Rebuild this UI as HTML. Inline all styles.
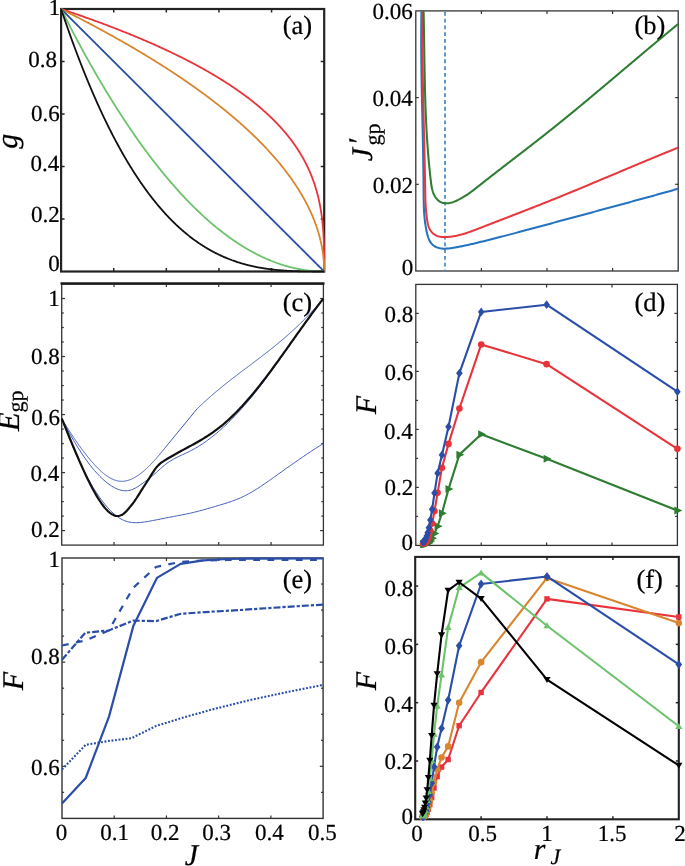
<!DOCTYPE html><html><head><meta charset="utf-8"><style>html,body{margin:0;padding:0;background:#fff;}svg{display:block;will-change:transform;}</style></head><body><svg width="685" height="866" viewBox="0 0 685 866" font-family='"Liberation Serif", serif' text-rendering="geometricPrecision"><style>text{stroke:#000;stroke-width:0.22px;fill:#000}</style>
<rect width="685" height="866" fill="#fff"/>
<rect x="61.1" y="9" width="263.1" height="262.5" fill="none" stroke="#222" stroke-width="2.2"/>
<line x1="61.1" y1="219" x2="64.6" y2="219" stroke="#222" stroke-width="1.5"/>
<line x1="324.2" y1="219" x2="320.7" y2="219" stroke="#222" stroke-width="1.5"/>
<line x1="61.1" y1="166.5" x2="64.6" y2="166.5" stroke="#222" stroke-width="1.5"/>
<line x1="324.2" y1="166.5" x2="320.7" y2="166.5" stroke="#222" stroke-width="1.5"/>
<line x1="61.1" y1="114" x2="64.6" y2="114" stroke="#222" stroke-width="1.5"/>
<line x1="324.2" y1="114" x2="320.7" y2="114" stroke="#222" stroke-width="1.5"/>
<line x1="61.1" y1="61.5" x2="64.6" y2="61.5" stroke="#222" stroke-width="1.5"/>
<line x1="324.2" y1="61.5" x2="320.7" y2="61.5" stroke="#222" stroke-width="1.5"/>
<line x1="113.72" y1="271.5" x2="113.72" y2="268" stroke="#222" stroke-width="1.5"/>
<line x1="113.72" y1="9" x2="113.72" y2="12.5" stroke="#222" stroke-width="1.5"/>
<line x1="166.34" y1="271.5" x2="166.34" y2="268" stroke="#222" stroke-width="1.5"/>
<line x1="166.34" y1="9" x2="166.34" y2="12.5" stroke="#222" stroke-width="1.5"/>
<line x1="218.96" y1="271.5" x2="218.96" y2="268" stroke="#222" stroke-width="1.5"/>
<line x1="218.96" y1="9" x2="218.96" y2="12.5" stroke="#222" stroke-width="1.5"/>
<line x1="271.58" y1="271.5" x2="271.58" y2="268" stroke="#222" stroke-width="1.5"/>
<line x1="271.58" y1="9" x2="271.58" y2="12.5" stroke="#222" stroke-width="1.5"/>
<rect x="415.8" y="10.9" width="262.4" height="260.1" fill="none" stroke="#333" stroke-width="1.3"/>
<line x1="415.8" y1="184.3" x2="418.8" y2="184.3" stroke="#333" stroke-width="1.2"/>
<line x1="678.2" y1="184.3" x2="675.2" y2="184.3" stroke="#333" stroke-width="1.2"/>
<line x1="415.8" y1="97.6" x2="418.8" y2="97.6" stroke="#333" stroke-width="1.2"/>
<line x1="678.2" y1="97.6" x2="675.2" y2="97.6" stroke="#333" stroke-width="1.2"/>
<line x1="481.4" y1="271" x2="481.4" y2="268" stroke="#333" stroke-width="1.2"/>
<line x1="481.4" y1="10.9" x2="481.4" y2="13.9" stroke="#333" stroke-width="1.2"/>
<line x1="547" y1="271" x2="547" y2="268" stroke="#333" stroke-width="1.2"/>
<line x1="547" y1="10.9" x2="547" y2="13.9" stroke="#333" stroke-width="1.2"/>
<line x1="612.6" y1="271" x2="612.6" y2="268" stroke="#333" stroke-width="1.2"/>
<line x1="612.6" y1="10.9" x2="612.6" y2="13.9" stroke="#333" stroke-width="1.2"/>
<rect x="61.7" y="284" width="261.7" height="261.1" fill="none" stroke="#333" stroke-width="1.3"/>
<line x1="60.5" y1="283.5" x2="324.5" y2="283.5" stroke="#1a1c1e" stroke-width="2.3"/>
<line x1="61.7" y1="530.59" x2="65" y2="530.59" stroke="#333" stroke-width="1.2"/>
<line x1="323.4" y1="530.59" x2="320.1" y2="530.59" stroke="#333" stroke-width="1.2"/>
<line x1="61.7" y1="472.57" x2="65" y2="472.57" stroke="#333" stroke-width="1.2"/>
<line x1="323.4" y1="472.57" x2="320.1" y2="472.57" stroke="#333" stroke-width="1.2"/>
<line x1="61.7" y1="414.55" x2="65" y2="414.55" stroke="#333" stroke-width="1.2"/>
<line x1="323.4" y1="414.55" x2="320.1" y2="414.55" stroke="#333" stroke-width="1.2"/>
<line x1="61.7" y1="356.53" x2="65" y2="356.53" stroke="#333" stroke-width="1.2"/>
<line x1="323.4" y1="356.53" x2="320.1" y2="356.53" stroke="#333" stroke-width="1.2"/>
<line x1="61.7" y1="298.51" x2="65" y2="298.51" stroke="#333" stroke-width="1.2"/>
<line x1="323.4" y1="298.51" x2="320.1" y2="298.51" stroke="#333" stroke-width="1.2"/>
<line x1="61.7" y1="516.09" x2="63.8" y2="516.09" stroke="#333" stroke-width="1.2"/>
<line x1="323.4" y1="516.09" x2="321.3" y2="516.09" stroke="#333" stroke-width="1.2"/>
<line x1="61.7" y1="501.58" x2="63.8" y2="501.58" stroke="#333" stroke-width="1.2"/>
<line x1="323.4" y1="501.58" x2="321.3" y2="501.58" stroke="#333" stroke-width="1.2"/>
<line x1="61.7" y1="487.08" x2="63.8" y2="487.08" stroke="#333" stroke-width="1.2"/>
<line x1="323.4" y1="487.08" x2="321.3" y2="487.08" stroke="#333" stroke-width="1.2"/>
<line x1="61.7" y1="458.07" x2="63.8" y2="458.07" stroke="#333" stroke-width="1.2"/>
<line x1="323.4" y1="458.07" x2="321.3" y2="458.07" stroke="#333" stroke-width="1.2"/>
<line x1="61.7" y1="443.56" x2="63.8" y2="443.56" stroke="#333" stroke-width="1.2"/>
<line x1="323.4" y1="443.56" x2="321.3" y2="443.56" stroke="#333" stroke-width="1.2"/>
<line x1="61.7" y1="429.06" x2="63.8" y2="429.06" stroke="#333" stroke-width="1.2"/>
<line x1="323.4" y1="429.06" x2="321.3" y2="429.06" stroke="#333" stroke-width="1.2"/>
<line x1="61.7" y1="400.04" x2="63.8" y2="400.04" stroke="#333" stroke-width="1.2"/>
<line x1="323.4" y1="400.04" x2="321.3" y2="400.04" stroke="#333" stroke-width="1.2"/>
<line x1="61.7" y1="385.54" x2="63.8" y2="385.54" stroke="#333" stroke-width="1.2"/>
<line x1="323.4" y1="385.54" x2="321.3" y2="385.54" stroke="#333" stroke-width="1.2"/>
<line x1="61.7" y1="371.03" x2="63.8" y2="371.03" stroke="#333" stroke-width="1.2"/>
<line x1="323.4" y1="371.03" x2="321.3" y2="371.03" stroke="#333" stroke-width="1.2"/>
<line x1="61.7" y1="342.02" x2="63.8" y2="342.02" stroke="#333" stroke-width="1.2"/>
<line x1="323.4" y1="342.02" x2="321.3" y2="342.02" stroke="#333" stroke-width="1.2"/>
<line x1="61.7" y1="327.52" x2="63.8" y2="327.52" stroke="#333" stroke-width="1.2"/>
<line x1="323.4" y1="327.52" x2="321.3" y2="327.52" stroke="#333" stroke-width="1.2"/>
<line x1="61.7" y1="313.01" x2="63.8" y2="313.01" stroke="#333" stroke-width="1.2"/>
<line x1="323.4" y1="313.01" x2="321.3" y2="313.01" stroke="#333" stroke-width="1.2"/>
<line x1="114.04" y1="545.1" x2="114.04" y2="542.1" stroke="#333" stroke-width="1.2"/>
<line x1="114.04" y1="284" x2="114.04" y2="287" stroke="#333" stroke-width="1.2"/>
<line x1="166.38" y1="545.1" x2="166.38" y2="542.1" stroke="#333" stroke-width="1.2"/>
<line x1="166.38" y1="284" x2="166.38" y2="287" stroke="#333" stroke-width="1.2"/>
<line x1="218.72" y1="545.1" x2="218.72" y2="542.1" stroke="#333" stroke-width="1.2"/>
<line x1="218.72" y1="284" x2="218.72" y2="287" stroke="#333" stroke-width="1.2"/>
<line x1="271.06" y1="545.1" x2="271.06" y2="542.1" stroke="#333" stroke-width="1.2"/>
<line x1="271.06" y1="284" x2="271.06" y2="287" stroke="#333" stroke-width="1.2"/>
<rect x="62" y="558" width="261.1" height="260.4" fill="none" stroke="#333" stroke-width="1.4"/>
<line x1="62" y1="766.32" x2="65.3" y2="766.32" stroke="#333" stroke-width="1.2"/>
<line x1="323.1" y1="766.32" x2="319.8" y2="766.32" stroke="#333" stroke-width="1.2"/>
<line x1="62" y1="662.16" x2="65.3" y2="662.16" stroke="#333" stroke-width="1.2"/>
<line x1="323.1" y1="662.16" x2="319.8" y2="662.16" stroke="#333" stroke-width="1.2"/>
<line x1="62" y1="792.36" x2="64.1" y2="792.36" stroke="#333" stroke-width="1.2"/>
<line x1="323.1" y1="792.36" x2="321" y2="792.36" stroke="#333" stroke-width="1.2"/>
<line x1="62" y1="740.28" x2="64.1" y2="740.28" stroke="#333" stroke-width="1.2"/>
<line x1="323.1" y1="740.28" x2="321" y2="740.28" stroke="#333" stroke-width="1.2"/>
<line x1="62" y1="714.24" x2="64.1" y2="714.24" stroke="#333" stroke-width="1.2"/>
<line x1="323.1" y1="714.24" x2="321" y2="714.24" stroke="#333" stroke-width="1.2"/>
<line x1="62" y1="688.2" x2="64.1" y2="688.2" stroke="#333" stroke-width="1.2"/>
<line x1="323.1" y1="688.2" x2="321" y2="688.2" stroke="#333" stroke-width="1.2"/>
<line x1="62" y1="636.12" x2="64.1" y2="636.12" stroke="#333" stroke-width="1.2"/>
<line x1="323.1" y1="636.12" x2="321" y2="636.12" stroke="#333" stroke-width="1.2"/>
<line x1="62" y1="610.08" x2="64.1" y2="610.08" stroke="#333" stroke-width="1.2"/>
<line x1="323.1" y1="610.08" x2="321" y2="610.08" stroke="#333" stroke-width="1.2"/>
<line x1="62" y1="584.04" x2="64.1" y2="584.04" stroke="#333" stroke-width="1.2"/>
<line x1="323.1" y1="584.04" x2="321" y2="584.04" stroke="#333" stroke-width="1.2"/>
<line x1="114.22" y1="818.4" x2="114.22" y2="815.4" stroke="#333" stroke-width="1.2"/>
<line x1="114.22" y1="558" x2="114.22" y2="561" stroke="#333" stroke-width="1.2"/>
<line x1="166.44" y1="818.4" x2="166.44" y2="815.4" stroke="#333" stroke-width="1.2"/>
<line x1="166.44" y1="558" x2="166.44" y2="561" stroke="#333" stroke-width="1.2"/>
<line x1="218.66" y1="818.4" x2="218.66" y2="815.4" stroke="#333" stroke-width="1.2"/>
<line x1="218.66" y1="558" x2="218.66" y2="561" stroke="#333" stroke-width="1.2"/>
<line x1="270.88" y1="818.4" x2="270.88" y2="815.4" stroke="#333" stroke-width="1.2"/>
<line x1="270.88" y1="558" x2="270.88" y2="561" stroke="#333" stroke-width="1.2"/>
<rect x="415.8" y="284.4" width="261.6" height="261" fill="none" stroke="#333" stroke-width="1.3"/>
<line x1="415.8" y1="487.4" x2="418.8" y2="487.4" stroke="#333" stroke-width="1.2"/>
<line x1="677.4" y1="487.4" x2="674.4" y2="487.4" stroke="#333" stroke-width="1.2"/>
<line x1="415.8" y1="429.4" x2="418.8" y2="429.4" stroke="#333" stroke-width="1.2"/>
<line x1="677.4" y1="429.4" x2="674.4" y2="429.4" stroke="#333" stroke-width="1.2"/>
<line x1="415.8" y1="371.4" x2="418.8" y2="371.4" stroke="#333" stroke-width="1.2"/>
<line x1="677.4" y1="371.4" x2="674.4" y2="371.4" stroke="#333" stroke-width="1.2"/>
<line x1="415.8" y1="313.4" x2="418.8" y2="313.4" stroke="#333" stroke-width="1.2"/>
<line x1="677.4" y1="313.4" x2="674.4" y2="313.4" stroke="#333" stroke-width="1.2"/>
<line x1="415.8" y1="516.4" x2="418.1" y2="516.4" stroke="#333" stroke-width="1.2"/>
<line x1="677.4" y1="516.4" x2="675.1" y2="516.4" stroke="#333" stroke-width="1.2"/>
<line x1="415.8" y1="458.4" x2="418.1" y2="458.4" stroke="#333" stroke-width="1.2"/>
<line x1="677.4" y1="458.4" x2="675.1" y2="458.4" stroke="#333" stroke-width="1.2"/>
<line x1="415.8" y1="400.4" x2="418.1" y2="400.4" stroke="#333" stroke-width="1.2"/>
<line x1="677.4" y1="400.4" x2="675.1" y2="400.4" stroke="#333" stroke-width="1.2"/>
<line x1="415.8" y1="342.4" x2="418.1" y2="342.4" stroke="#333" stroke-width="1.2"/>
<line x1="677.4" y1="342.4" x2="675.1" y2="342.4" stroke="#333" stroke-width="1.2"/>
<line x1="481.2" y1="545.4" x2="481.2" y2="542.4" stroke="#333" stroke-width="1.2"/>
<line x1="481.2" y1="284.4" x2="481.2" y2="287.4" stroke="#333" stroke-width="1.2"/>
<line x1="546.6" y1="545.4" x2="546.6" y2="542.4" stroke="#333" stroke-width="1.2"/>
<line x1="546.6" y1="284.4" x2="546.6" y2="287.4" stroke="#333" stroke-width="1.2"/>
<line x1="612" y1="545.4" x2="612" y2="542.4" stroke="#333" stroke-width="1.2"/>
<line x1="612" y1="284.4" x2="612" y2="287.4" stroke="#333" stroke-width="1.2"/>
<rect x="415.2" y="556.9" width="263.6" height="262.4" fill="none" stroke="#222" stroke-width="2.1"/>
<line x1="415.2" y1="760.99" x2="418.2" y2="760.99" stroke="#222" stroke-width="1.5"/>
<line x1="678.8" y1="760.99" x2="675.8" y2="760.99" stroke="#222" stroke-width="1.5"/>
<line x1="415.2" y1="702.68" x2="418.2" y2="702.68" stroke="#222" stroke-width="1.5"/>
<line x1="678.8" y1="702.68" x2="675.8" y2="702.68" stroke="#222" stroke-width="1.5"/>
<line x1="415.2" y1="644.37" x2="418.2" y2="644.37" stroke="#222" stroke-width="1.5"/>
<line x1="678.8" y1="644.37" x2="675.8" y2="644.37" stroke="#222" stroke-width="1.5"/>
<line x1="415.2" y1="586.06" x2="418.2" y2="586.06" stroke="#222" stroke-width="1.5"/>
<line x1="678.8" y1="586.06" x2="675.8" y2="586.06" stroke="#222" stroke-width="1.5"/>
<line x1="481.1" y1="819.3" x2="481.1" y2="816.3" stroke="#222" stroke-width="1.5"/>
<line x1="481.1" y1="556.9" x2="481.1" y2="559.9" stroke="#222" stroke-width="1.5"/>
<line x1="547" y1="819.3" x2="547" y2="816.3" stroke="#222" stroke-width="1.5"/>
<line x1="547" y1="556.9" x2="547" y2="559.9" stroke="#222" stroke-width="1.5"/>
<line x1="612.9" y1="819.3" x2="612.9" y2="816.3" stroke="#222" stroke-width="1.5"/>
<line x1="612.9" y1="556.9" x2="612.9" y2="559.9" stroke="#222" stroke-width="1.5"/>
<polyline fill="none" stroke="#e8333a" stroke-width="1.8" stroke-linejoin="round" points="61.1,9 63.07,9.66 65.03,10.31 66.98,10.97 68.91,11.62 70.84,12.28 72.76,12.94 74.67,13.59 76.57,14.25 78.46,14.91 80.34,15.56 82.21,16.22 84.08,16.88 85.93,17.53 87.77,18.19 89.6,18.84 91.43,19.5 93.24,20.16 95.04,20.81 96.84,21.47 98.62,22.12 100.4,22.78 102.17,23.44 103.93,24.09 105.67,24.75 107.41,25.41 109.14,26.06 110.86,26.72 112.57,27.38 114.28,28.03 115.97,28.69 117.65,29.34 119.33,30 120.99,30.66 122.65,31.31 124.3,31.97 125.94,32.62 127.57,33.28 129.19,33.94 130.8,34.59 132.4,35.25 133.99,35.91 135.58,36.56 137.16,37.22 138.72,37.88 140.28,38.53 141.83,39.19 143.37,39.84 144.9,40.5 146.43,41.16 147.94,41.81 149.45,42.47 150.95,43.12 152.44,43.78 153.92,44.44 155.39,45.09 156.85,45.75 158.31,46.41 159.76,47.06 161.19,47.72 162.62,48.38 164.05,49.03 165.46,49.69 166.86,50.34 168.26,51 169.65,51.66 171.03,52.31 172.4,52.97 173.76,53.62 175.12,54.28 176.47,54.94 177.8,55.59 179.14,56.25 180.46,56.91 181.77,57.56 183.08,58.22 184.38,58.88 185.67,59.53 186.95,60.19 188.23,60.84 189.49,61.5 190.75,62.16 192,62.81 193.25,63.47 194.48,64.12 195.71,64.78 196.93,65.44 198.14,66.09 199.35,66.75 200.54,67.41 201.73,68.06 202.91,68.72 204.09,69.38 205.25,70.03 206.41,70.69 207.56,71.34 208.71,72 209.84,72.66 210.97,73.31 212.09,73.97 213.2,74.62 214.31,75.28 215.41,75.94 216.5,76.59 217.59,77.25 218.66,77.91 219.73,78.56 220.79,79.22 221.85,79.88 222.9,80.53 223.94,81.19 224.97,81.84 226,82.5 227.02,83.16 228.03,83.81 229.04,84.47 230.03,85.12 231.02,85.78 232.01,86.44 232.99,87.09 233.96,87.75 234.92,88.41 235.88,89.06 236.83,89.72 237.77,90.38 238.71,91.03 239.63,91.69 240.56,92.34 241.47,93 242.38,93.66 243.28,94.31 244.18,94.97 245.07,95.63 245.95,96.28 246.83,96.94 247.7,97.59 248.56,98.25 249.42,98.91 250.27,99.56 251.11,100.22 251.95,100.88 252.78,101.53 253.6,102.19 254.42,102.84 255.23,103.5 256.04,104.16 256.83,104.81 257.63,105.47 258.41,106.12 259.19,106.78 259.97,107.44 260.73,108.09 261.5,108.75 262.25,109.41 263,110.06 263.74,110.72 264.48,111.38 265.21,112.03 265.94,112.69 266.66,113.34 267.37,114 268.08,114.66 268.78,115.31 269.47,115.97 270.16,116.62 270.85,117.28 271.53,117.94 272.2,118.59 272.87,119.25 273.53,119.91 274.18,120.56 274.83,121.22 275.48,121.87 276.11,122.53 276.75,123.19 277.37,123.84 278,124.5 278.61,125.16 279.22,125.81 279.83,126.47 280.43,127.12 281.02,127.78 281.61,128.44 282.19,129.09 282.77,129.75 283.34,130.41 283.91,131.06 284.47,131.72 285.03,132.38 285.58,133.03 286.13,133.69 286.67,134.34 287.21,135 287.74,135.66 288.26,136.31 288.78,136.97 289.3,137.62 289.81,138.28 290.32,138.94 290.82,139.59 291.31,140.25 291.8,140.91 292.29,141.56 292.77,142.22 293.25,142.88 293.72,143.53 294.18,144.19 294.65,144.84 295.1,145.5 295.56,146.16 296,146.81 296.45,147.47 296.88,148.12 297.32,148.78 297.75,149.44 298.17,150.09 298.59,150.75 299.01,151.41 299.42,152.06 299.82,152.72 300.23,153.38 300.62,154.03 301.02,154.69 301.4,155.34 301.79,156 302.17,156.66 302.54,157.31 302.91,157.97 303.28,158.62 303.64,159.28 304,159.94 304.36,160.59 304.71,161.25 305.05,161.91 305.4,162.56 305.73,163.22 306.07,163.88 306.4,164.53 306.72,165.19 307.04,165.84 307.36,166.5 307.68,167.16 307.99,167.81 308.29,168.47 308.59,169.12 308.89,169.78 309.19,170.44 309.48,171.09 309.76,171.75 310.05,172.41 310.33,173.06 310.6,173.72 310.87,174.38 311.14,175.03 311.41,175.69 311.67,176.34 311.92,177 312.18,177.66 312.43,178.31 312.68,178.97 312.92,179.62 313.16,180.28 313.4,180.94 313.63,181.59 313.86,182.25 314.09,182.91 314.31,183.56 314.53,184.22 314.74,184.88 314.96,185.53 315.17,186.19 315.38,186.84 315.58,187.5 315.78,188.16 315.98,188.81 316.17,189.47 316.36,190.12 316.55,190.78 316.74,191.44 316.92,192.09 317.1,192.75 317.27,193.41 317.45,194.06 317.62,194.72 317.78,195.38 317.95,196.03 318.11,196.69 318.27,197.34 318.42,198 318.58,198.66 318.73,199.31 318.88,199.97 319.02,200.62 319.16,201.28 319.3,201.94 319.44,202.59 319.58,203.25 319.71,203.91 319.84,204.56 319.96,205.22 320.09,205.88 320.21,206.53 320.33,207.19 320.45,207.84 320.56,208.5 320.68,209.16 320.79,209.81 320.89,210.47 321,211.12 321.1,211.78 321.2,212.44 321.3,213.09 321.4,213.75 321.49,214.41 321.59,215.06 321.68,215.72 321.76,216.38 321.85,217.03 321.93,217.69 322.02,218.34 322.1,219 322.17,219.66 322.25,220.31 322.32,220.97 322.4,221.63 322.47,222.28 322.53,222.94 322.6,223.59 322.67,224.25 322.73,224.91 322.79,225.56 322.85,226.22 322.91,226.87 322.96,227.53 323.02,228.19 323.07,228.84 323.12,229.5 323.17,230.16 323.22,230.81 323.27,231.47 323.31,232.12 323.36,232.78 323.4,233.44 323.44,234.09 323.48,234.75 323.52,235.41 323.55,236.06 323.59,236.72 323.62,237.37 323.65,238.03 323.69,238.69 323.72,239.34 323.75,240 323.77,240.66 323.8,241.31 323.83,241.97 323.85,242.63 323.87,243.28 323.9,243.94 323.92,244.59 323.94,245.25 323.96,245.91 323.97,246.56 323.99,247.22 324.01,247.88 324.02,248.53 324.04,249.19 324.05,249.84 324.07,250.5 324.08,251.16 324.09,251.81 324.1,252.47 324.11,253.13 324.12,253.78 324.13,254.44 324.14,255.09 324.14,255.75 324.15,256.41 324.16,257.06 324.16,257.72 324.17,258.37 324.17,259.03 324.18,259.69 324.18,260.34 324.18,261 324.19,261.66 324.19,262.31 324.19,262.97 324.19,263.63 324.19,264.28 324.2,264.94 324.2,265.59 324.2,266.25 324.2,266.91 324.2,267.56 324.2,268.22 324.2,268.87 324.2,269.53 324.2,270.19 324.2,270.84 324.2,271.5"/>
<polyline fill="none" stroke="#d8862f" stroke-width="1.8" stroke-linejoin="round" points="61.1,9 63.07,9.98 65.03,10.97 66.98,11.95 68.91,12.93 70.84,13.91 72.76,14.88 74.67,15.86 76.57,16.84 78.46,17.81 80.34,18.78 82.21,19.75 84.08,20.72 85.93,21.69 87.77,22.66 89.6,23.63 91.43,24.59 93.24,25.56 95.04,26.52 96.84,27.48 98.62,28.44 100.4,29.4 102.17,30.36 103.93,31.31 105.67,32.27 107.41,33.22 109.14,34.17 110.86,35.12 112.57,36.07 114.28,37.02 115.97,37.97 117.65,38.92 119.33,39.86 120.99,40.8 122.65,41.75 124.3,42.69 125.94,43.63 127.57,44.57 129.19,45.5 130.8,46.44 132.4,47.37 133.99,48.31 135.58,49.24 137.16,50.17 138.72,51.1 140.28,52.03 141.83,52.95 143.37,53.88 144.9,54.8 146.43,55.73 147.94,56.65 149.45,57.57 150.95,58.49 152.44,59.4 153.92,60.32 155.39,61.23 156.85,62.15 158.31,63.06 159.76,63.97 161.19,64.88 162.62,65.79 164.05,66.7 165.46,67.6 166.86,68.51 168.26,69.41 169.65,70.31 171.03,71.21 172.4,72.11 173.76,73.01 175.12,73.9 176.47,74.8 177.8,75.69 179.14,76.58 180.46,77.47 181.77,78.36 183.08,79.25 184.38,80.14 185.67,81.02 186.95,81.91 188.23,82.79 189.49,83.67 190.75,84.55 192,85.43 193.25,86.31 194.48,87.18 195.71,88.06 196.93,88.93 198.14,89.8 199.35,90.67 200.54,91.54 201.73,92.41 202.91,93.27 204.09,94.14 205.25,95 206.41,95.86 207.56,96.72 208.71,97.58 209.84,98.44 210.97,99.29 212.09,100.15 213.2,101 214.31,101.85 215.41,102.7 216.5,103.55 217.59,104.4 218.66,105.25 219.73,106.09 220.79,106.93 221.85,107.78 222.9,108.62 223.94,109.45 224.97,110.29 226,111.13 227.02,111.96 228.03,112.8 229.04,113.63 230.03,114.46 231.02,115.29 232.01,116.11 232.99,116.94 233.96,117.76 234.92,118.59 235.88,119.41 236.83,120.23 237.77,121.05 238.71,121.86 239.63,122.68 240.56,123.49 241.47,124.31 242.38,125.12 243.28,125.93 244.18,126.73 245.07,127.54 245.95,128.35 246.83,129.15 247.7,129.95 248.56,130.75 249.42,131.55 250.27,132.35 251.11,133.14 251.95,133.94 252.78,134.73 253.6,135.52 254.42,136.31 255.23,137.1 256.04,137.89 256.83,138.67 257.63,139.46 258.41,140.24 259.19,141.02 259.97,141.8 260.73,142.57 261.5,143.35 262.25,144.12 263,144.9 263.74,145.67 264.48,146.44 265.21,147.21 265.94,147.97 266.66,148.74 267.37,149.5 268.08,150.26 268.78,151.02 269.47,151.78 270.16,152.54 270.85,153.29 271.53,154.05 272.2,154.8 272.87,155.55 273.53,156.3 274.18,157.05 274.83,157.79 275.48,158.54 276.11,159.28 276.75,160.02 277.37,160.76 278,161.5 278.61,162.23 279.22,162.97 279.83,163.7 280.43,164.43 281.02,165.16 281.61,165.89 282.19,166.61 282.77,167.34 283.34,168.06 283.91,168.78 284.47,169.5 285.03,170.22 285.58,170.93 286.13,171.65 286.67,172.36 287.21,173.07 287.74,173.78 288.26,174.48 288.78,175.19 289.3,175.89 289.81,176.6 290.32,177.3 290.82,178 291.31,178.69 291.8,179.39 292.29,180.08 292.77,180.77 293.25,181.46 293.72,182.15 294.18,182.84 294.65,183.52 295.1,184.2 295.56,184.89 296,185.57 296.45,186.24 296.88,186.92 297.32,187.59 297.75,188.26 298.17,188.93 298.59,189.6 299.01,190.27 299.42,190.94 299.82,191.6 300.23,192.26 300.62,192.92 301.02,193.58 301.4,194.23 301.79,194.89 302.17,195.54 302.54,196.19 302.91,196.84 303.28,197.48 303.64,198.13 304,198.77 304.36,199.41 304.71,200.05 305.05,200.69 305.4,201.32 305.73,201.96 306.07,202.59 306.4,203.22 306.72,203.84 307.04,204.47 307.36,205.09 307.68,205.71 307.99,206.33 308.29,206.95 308.59,207.57 308.89,208.18 309.19,208.79 309.48,209.4 309.76,210.01 310.05,210.62 310.33,211.22 310.6,211.82 310.87,212.42 311.14,213.02 311.41,213.61 311.67,214.21 311.92,214.8 312.18,215.39 312.43,215.98 312.68,216.56 312.92,217.15 313.16,217.73 313.4,218.31 313.63,218.88 313.86,219.46 314.09,220.03 314.31,220.6 314.53,221.17 314.74,221.74 314.96,222.3 315.17,222.86 315.38,223.42 315.58,223.98 315.78,224.54 315.98,225.09 316.17,225.64 316.36,226.19 316.55,226.74 316.74,227.28 316.92,227.83 317.1,228.37 317.27,228.9 317.45,229.44 317.62,229.97 317.78,230.51 317.95,231.03 318.11,231.56 318.27,232.09 318.42,232.61 318.58,233.13 318.73,233.64 318.88,234.16 319.02,234.67 319.16,235.18 319.3,235.69 319.44,236.2 319.58,236.7 319.71,237.2 319.84,237.7 319.96,238.19 320.09,238.69 320.21,239.18 320.33,239.67 320.45,240.15 320.56,240.64 320.68,241.12 320.79,241.6 320.89,242.07 321,242.55 321.1,243.02 321.2,243.48 321.3,243.95 321.4,244.41 321.49,244.87 321.59,245.33 321.68,245.79 321.76,246.24 321.85,246.69 321.93,247.14 322.02,247.58 322.1,248.02 322.17,248.46 322.25,248.9 322.32,249.33 322.4,249.76 322.47,250.19 322.53,250.61 322.6,251.03 322.67,251.45 322.73,251.87 322.79,252.28 322.85,252.69 322.91,253.1 322.96,253.51 323.02,253.91 323.07,254.3 323.12,254.7 323.17,255.09 323.22,255.48 323.27,255.87 323.31,256.25 323.36,256.63 323.4,257.01 323.44,257.38 323.48,257.75 323.52,258.12 323.55,258.48 323.59,258.84 323.62,259.2 323.65,259.55 323.69,259.9 323.72,260.25 323.75,260.59 323.77,260.93 323.8,261.26 323.83,261.59 323.85,261.92 323.87,262.25 323.9,262.57 323.92,262.89 323.94,263.2 323.96,263.51 323.97,263.81 323.99,264.12 324.01,264.41 324.02,264.71 324.04,264.99 324.05,265.28 324.07,265.56 324.08,265.84 324.09,266.11 324.1,266.38 324.11,266.64 324.12,266.9 324.13,267.15 324.14,267.4 324.14,267.64 324.15,267.88 324.16,268.11 324.16,268.34 324.17,268.57 324.17,268.78 324.18,268.99 324.18,269.2 324.18,269.4 324.19,269.59 324.19,269.78 324.19,269.96 324.19,270.14 324.19,270.3 324.2,270.46 324.2,270.61 324.2,270.76 324.2,270.89 324.2,271.02 324.2,271.13 324.2,271.24 324.2,271.33 324.2,271.41 324.2,271.47 324.2,271.5"/>
<polyline fill="none" stroke="#2a4ea8" stroke-width="1.8" stroke-linejoin="round" points="61.1,9 61.76,9.66 62.42,10.31 63.07,10.97 63.73,11.62 64.39,12.28 65.05,12.94 65.7,13.59 66.36,14.25 67.02,14.91 67.68,15.56 68.34,16.22 68.99,16.88 69.65,17.53 70.31,18.19 70.97,18.84 71.62,19.5 72.28,20.16 72.94,20.81 73.6,21.47 74.25,22.12 74.91,22.78 75.57,23.44 76.23,24.09 76.89,24.75 77.54,25.41 78.2,26.06 78.86,26.72 79.52,27.38 80.17,28.03 80.83,28.69 81.49,29.34 82.15,30 82.81,30.66 83.46,31.31 84.12,31.97 84.78,32.62 85.44,33.28 86.09,33.94 86.75,34.59 87.41,35.25 88.07,35.91 88.73,36.56 89.38,37.22 90.04,37.88 90.7,38.53 91.36,39.19 92.01,39.84 92.67,40.5 93.33,41.16 93.99,41.81 94.65,42.47 95.3,43.12 95.96,43.78 96.62,44.44 97.28,45.09 97.93,45.75 98.59,46.41 99.25,47.06 99.91,47.72 100.56,48.38 101.22,49.03 101.88,49.69 102.54,50.34 103.2,51 103.85,51.66 104.51,52.31 105.17,52.97 105.83,53.62 106.48,54.28 107.14,54.94 107.8,55.59 108.46,56.25 109.12,56.91 109.77,57.56 110.43,58.22 111.09,58.88 111.75,59.53 112.4,60.19 113.06,60.84 113.72,61.5 114.38,62.16 115.04,62.81 115.69,63.47 116.35,64.12 117.01,64.78 117.67,65.44 118.32,66.09 118.98,66.75 119.64,67.41 120.3,68.06 120.96,68.72 121.61,69.38 122.27,70.03 122.93,70.69 123.59,71.34 124.24,72 124.9,72.66 125.56,73.31 126.22,73.97 126.88,74.62 127.53,75.28 128.19,75.94 128.85,76.59 129.51,77.25 130.16,77.91 130.82,78.56 131.48,79.22 132.14,79.88 132.79,80.53 133.45,81.19 134.11,81.84 134.77,82.5 135.43,83.16 136.08,83.81 136.74,84.47 137.4,85.12 138.06,85.78 138.71,86.44 139.37,87.09 140.03,87.75 140.69,88.41 141.35,89.06 142,89.72 142.66,90.38 143.32,91.03 143.98,91.69 144.63,92.34 145.29,93 145.95,93.66 146.61,94.31 147.27,94.97 147.92,95.63 148.58,96.28 149.24,96.94 149.9,97.59 150.55,98.25 151.21,98.91 151.87,99.56 152.53,100.22 153.18,100.88 153.84,101.53 154.5,102.19 155.16,102.84 155.82,103.5 156.47,104.16 157.13,104.81 157.79,105.47 158.45,106.12 159.1,106.78 159.76,107.44 160.42,108.09 161.08,108.75 161.74,109.41 162.39,110.06 163.05,110.72 163.71,111.38 164.37,112.03 165.02,112.69 165.68,113.34 166.34,114 167,114.66 167.66,115.31 168.31,115.97 168.97,116.62 169.63,117.28 170.29,117.94 170.94,118.59 171.6,119.25 172.26,119.91 172.92,120.56 173.58,121.22 174.23,121.87 174.89,122.53 175.55,123.19 176.21,123.84 176.86,124.5 177.52,125.16 178.18,125.81 178.84,126.47 179.49,127.12 180.15,127.78 180.81,128.44 181.47,129.09 182.13,129.75 182.78,130.41 183.44,131.06 184.1,131.72 184.76,132.38 185.41,133.03 186.07,133.69 186.73,134.34 187.39,135 188.05,135.66 188.7,136.31 189.36,136.97 190.02,137.62 190.68,138.28 191.33,138.94 191.99,139.59 192.65,140.25 193.31,140.91 193.97,141.56 194.62,142.22 195.28,142.88 195.94,143.53 196.6,144.19 197.25,144.84 197.91,145.5 198.57,146.16 199.23,146.81 199.89,147.47 200.54,148.12 201.2,148.78 201.86,149.44 202.52,150.09 203.17,150.75 203.83,151.41 204.49,152.06 205.15,152.72 205.8,153.38 206.46,154.03 207.12,154.69 207.78,155.34 208.44,156 209.09,156.66 209.75,157.31 210.41,157.97 211.07,158.62 211.72,159.28 212.38,159.94 213.04,160.59 213.7,161.25 214.36,161.91 215.01,162.56 215.67,163.22 216.33,163.88 216.99,164.53 217.64,165.19 218.3,165.84 218.96,166.5 219.62,167.16 220.28,167.81 220.93,168.47 221.59,169.12 222.25,169.78 222.91,170.44 223.56,171.09 224.22,171.75 224.88,172.41 225.54,173.06 226.2,173.72 226.85,174.38 227.51,175.03 228.17,175.69 228.83,176.34 229.48,177 230.14,177.66 230.8,178.31 231.46,178.97 232.11,179.62 232.77,180.28 233.43,180.94 234.09,181.59 234.75,182.25 235.4,182.91 236.06,183.56 236.72,184.22 237.38,184.88 238.03,185.53 238.69,186.19 239.35,186.84 240.01,187.5 240.67,188.16 241.32,188.81 241.98,189.47 242.64,190.12 243.3,190.78 243.95,191.44 244.61,192.09 245.27,192.75 245.93,193.41 246.59,194.06 247.24,194.72 247.9,195.38 248.56,196.03 249.22,196.69 249.87,197.34 250.53,198 251.19,198.66 251.85,199.31 252.51,199.97 253.16,200.62 253.82,201.28 254.48,201.94 255.14,202.59 255.79,203.25 256.45,203.91 257.11,204.56 257.77,205.22 258.43,205.88 259.08,206.53 259.74,207.19 260.4,207.84 261.06,208.5 261.71,209.16 262.37,209.81 263.03,210.47 263.69,211.12 264.34,211.78 265,212.44 265.66,213.09 266.32,213.75 266.98,214.41 267.63,215.06 268.29,215.72 268.95,216.38 269.61,217.03 270.26,217.69 270.92,218.34 271.58,219 272.24,219.66 272.9,220.31 273.55,220.97 274.21,221.62 274.87,222.28 275.53,222.94 276.18,223.59 276.84,224.25 277.5,224.91 278.16,225.56 278.82,226.22 279.47,226.88 280.13,227.53 280.79,228.19 281.45,228.84 282.1,229.5 282.76,230.16 283.42,230.81 284.08,231.47 284.73,232.12 285.39,232.78 286.05,233.44 286.71,234.09 287.37,234.75 288.02,235.41 288.68,236.06 289.34,236.72 290,237.38 290.65,238.03 291.31,238.69 291.97,239.34 292.63,240 293.29,240.66 293.94,241.31 294.6,241.97 295.26,242.62 295.92,243.28 296.57,243.94 297.23,244.59 297.89,245.25 298.55,245.91 299.21,246.56 299.86,247.22 300.52,247.88 301.18,248.53 301.84,249.19 302.49,249.84 303.15,250.5 303.81,251.16 304.47,251.81 305.13,252.47 305.78,253.12 306.44,253.78 307.1,254.44 307.76,255.09 308.41,255.75 309.07,256.41 309.73,257.06 310.39,257.72 311.04,258.38 311.7,259.03 312.36,259.69 313.02,260.34 313.68,261 314.33,261.66 314.99,262.31 315.65,262.97 316.31,263.62 316.96,264.28 317.62,264.94 318.28,265.59 318.94,266.25 319.6,266.91 320.25,267.56 320.91,268.22 321.57,268.88 322.23,269.53 322.88,270.19 323.54,270.84 324.2,271.5"/>
<polyline fill="none" stroke="#6cc36c" stroke-width="1.8" stroke-linejoin="round" points="61.1,9 61.76,10.31 62.42,11.62 63.07,12.92 63.73,14.22 64.39,15.52 65.05,16.82 65.7,18.11 66.36,19.4 67.02,20.68 67.68,21.96 68.34,23.24 68.99,24.51 69.65,25.79 70.31,27.05 70.97,28.32 71.62,29.58 72.28,30.84 72.94,32.09 73.6,33.35 74.25,34.59 74.91,35.84 75.57,37.08 76.23,38.32 76.89,39.56 77.54,40.79 78.2,42.02 78.86,43.24 79.52,44.46 80.17,45.68 80.83,46.9 81.49,48.11 82.15,49.32 82.81,50.53 83.46,51.73 84.12,52.93 84.78,54.12 85.44,55.32 86.09,56.51 86.75,57.69 87.41,58.88 88.07,60.05 88.73,61.23 89.38,62.4 90.04,63.57 90.7,64.74 91.36,65.9 92.01,67.06 92.67,68.22 93.33,69.37 93.99,70.52 94.65,71.67 95.3,72.81 95.96,73.95 96.62,75.09 97.28,76.22 97.93,77.36 98.59,78.48 99.25,79.61 99.91,80.73 100.56,81.84 101.22,82.96 101.88,84.07 102.54,85.18 103.2,86.28 103.85,87.38 104.51,88.48 105.17,89.57 105.83,90.66 106.48,91.75 107.14,92.84 107.8,93.92 108.46,94.99 109.12,96.07 109.77,97.14 110.43,98.21 111.09,99.27 111.75,100.34 112.4,101.39 113.06,102.45 113.72,103.5 114.38,104.55 115.04,105.59 115.69,106.64 116.35,107.67 117.01,108.71 117.67,109.74 118.32,110.77 118.98,111.79 119.64,112.82 120.3,113.84 120.96,114.85 121.61,115.86 122.27,116.87 122.93,117.88 123.59,118.88 124.24,119.88 124.9,120.88 125.56,121.87 126.22,122.86 126.88,123.84 127.53,124.83 128.19,125.81 128.85,126.78 129.51,127.75 130.16,128.72 130.82,129.69 131.48,130.65 132.14,131.61 132.79,132.57 133.45,133.52 134.11,134.47 134.77,135.42 135.43,136.36 136.08,137.3 136.74,138.24 137.4,139.17 138.06,140.1 138.71,141.03 139.37,141.95 140.03,142.88 140.69,143.79 141.35,144.71 142,145.62 142.66,146.52 143.32,147.43 143.98,148.33 144.63,149.23 145.29,150.12 145.95,151.01 146.61,151.9 147.27,152.78 147.92,153.66 148.58,154.54 149.24,155.42 149.9,156.29 150.55,157.16 151.21,158.02 151.87,158.88 152.53,159.74 153.18,160.59 153.84,161.45 154.5,162.29 155.16,163.14 155.82,163.98 156.47,164.82 157.13,165.65 157.79,166.49 158.45,167.31 159.1,168.14 159.76,168.96 160.42,169.78 161.08,170.59 161.74,171.41 162.39,172.22 163.05,173.02 163.71,173.82 164.37,174.62 165.02,175.42 165.68,176.21 166.34,177 167,177.79 167.66,178.57 168.31,179.35 168.97,180.12 169.63,180.9 170.29,181.67 170.94,182.43 171.6,183.19 172.26,183.95 172.92,184.71 173.58,185.46 174.23,186.21 174.89,186.96 175.55,187.7 176.21,188.44 176.86,189.18 177.52,189.91 178.18,190.64 178.84,191.37 179.49,192.09 180.15,192.81 180.81,193.53 181.47,194.24 182.13,194.95 182.78,195.66 183.44,196.37 184.1,197.07 184.76,197.76 185.41,198.46 186.07,199.15 186.73,199.84 187.39,200.52 188.05,201.2 188.7,201.88 189.36,202.55 190.02,203.22 190.68,203.89 191.33,204.56 191.99,205.22 192.65,205.88 193.31,206.53 193.97,207.18 194.62,207.83 195.28,208.47 195.94,209.12 196.6,209.75 197.25,210.39 197.91,211.02 198.57,211.65 199.23,212.27 199.89,212.9 200.54,213.51 201.2,214.13 201.86,214.74 202.52,215.35 203.17,215.96 203.83,216.56 204.49,217.16 205.15,217.75 205.8,218.34 206.46,218.93 207.12,219.52 207.78,220.1 208.44,220.68 209.09,221.26 209.75,221.83 210.41,222.4 211.07,222.96 211.72,223.53 212.38,224.09 213.04,224.64 213.7,225.19 214.36,225.74 215.01,226.29 215.67,226.83 216.33,227.37 216.99,227.91 217.64,228.44 218.3,228.97 218.96,229.5 219.62,230.02 220.28,230.54 220.93,231.06 221.59,231.57 222.25,232.08 222.91,232.59 223.56,233.09 224.22,233.59 224.88,234.09 225.54,234.59 226.2,235.08 226.85,235.56 227.51,236.05 228.17,236.53 228.83,237.01 229.48,237.48 230.14,237.95 230.8,238.42 231.46,238.88 232.11,239.34 232.77,239.8 233.43,240.26 234.09,240.71 234.75,241.16 235.4,241.6 236.06,242.04 236.72,242.48 237.38,242.91 238.03,243.35 238.69,243.77 239.35,244.2 240.01,244.62 240.67,245.04 241.32,245.45 241.98,245.87 242.64,246.27 243.3,246.68 243.95,247.08 244.61,247.48 245.27,247.88 245.93,248.27 246.59,248.66 247.24,249.04 247.9,249.42 248.56,249.8 249.22,250.18 249.87,250.55 250.53,250.92 251.19,251.29 251.85,251.65 252.51,252.01 253.16,252.36 253.82,252.72 254.48,253.07 255.14,253.41 255.79,253.75 256.45,254.09 257.11,254.43 257.77,254.76 258.43,255.09 259.08,255.42 259.74,255.74 260.4,256.06 261.06,256.38 261.71,256.69 262.37,257 263.03,257.31 263.69,257.61 264.34,257.91 265,258.21 265.66,258.5 266.32,258.8 266.98,259.08 267.63,259.37 268.29,259.65 268.95,259.92 269.61,260.2 270.26,260.47 270.92,260.74 271.58,261 272.24,261.26 272.9,261.52 273.55,261.77 274.21,262.02 274.87,262.27 275.53,262.52 276.18,262.76 276.84,263 277.5,263.23 278.16,263.46 278.82,263.69 279.47,263.91 280.13,264.14 280.79,264.35 281.45,264.57 282.1,264.78 282.76,264.99 283.42,265.19 284.08,265.4 284.73,265.59 285.39,265.79 286.05,265.98 286.71,266.17 287.37,266.36 288.02,266.54 288.68,266.72 289.34,266.89 290,267.06 290.65,267.23 291.31,267.4 291.97,267.56 292.63,267.72 293.29,267.88 293.94,268.03 294.6,268.18 295.26,268.32 295.92,268.47 296.57,268.61 297.23,268.74 297.89,268.88 298.55,269 299.21,269.13 299.86,269.25 300.52,269.37 301.18,269.49 301.84,269.6 302.49,269.71 303.15,269.82 303.81,269.92 304.47,270.02 305.13,270.12 305.78,270.21 306.44,270.3 307.1,270.39 307.76,270.47 308.41,270.56 309.07,270.63 309.73,270.71 310.39,270.78 311.04,270.84 311.7,270.91 312.36,270.97 313.02,271.03 313.68,271.08 314.33,271.13 314.99,271.18 315.65,271.22 316.31,271.26 316.96,271.3 317.62,271.34 318.28,271.37 318.94,271.39 319.6,271.42 320.25,271.44 320.91,271.46 321.57,271.47 322.23,271.49 322.88,271.49 323.54,271.5 324.2,271.5"/>
<polyline fill="none" stroke="#111" stroke-width="1.8" stroke-linejoin="round" points="61.1,9 61.76,10.96 62.42,12.92 63.07,14.86 63.73,16.8 64.39,18.72 65.05,20.64 65.7,22.54 66.36,24.44 67.02,26.32 67.68,28.2 68.34,30.07 68.99,31.92 69.65,33.77 70.31,35.61 70.97,37.44 71.62,39.26 72.28,41.07 72.94,42.87 73.6,44.66 74.25,46.44 74.91,48.21 75.57,49.97 76.23,51.73 76.89,53.47 77.54,55.21 78.2,56.93 78.86,58.65 79.52,60.36 80.17,62.05 80.83,63.74 81.49,65.42 82.15,67.09 82.81,68.76 83.46,70.41 84.12,72.05 84.78,73.69 85.44,75.31 86.09,76.93 86.75,78.54 87.41,80.14 88.07,81.73 88.73,83.31 89.38,84.88 90.04,86.45 90.7,88 91.36,89.55 92.01,91.08 92.67,92.61 93.33,94.13 93.99,95.65 94.65,97.15 95.3,98.64 95.96,100.13 96.62,101.61 97.28,103.07 97.93,104.54 98.59,105.99 99.25,107.43 99.91,108.87 100.56,110.29 101.22,111.71 101.88,113.12 102.54,114.52 103.2,115.92 103.85,117.3 104.51,118.68 105.17,120.05 105.83,121.41 106.48,122.76 107.14,124.1 107.8,125.44 108.46,126.77 109.12,128.09 109.77,129.4 110.43,130.7 111.09,132 111.75,133.28 112.4,134.56 113.06,135.84 113.72,137.1 114.38,138.36 115.04,139.6 115.69,140.84 116.35,142.08 117.01,143.3 117.67,144.52 118.32,145.73 118.98,146.93 119.64,148.12 120.3,149.31 120.96,150.49 121.61,151.66 122.27,152.82 122.93,153.98 123.59,155.13 124.24,156.27 124.9,157.4 125.56,158.53 126.22,159.65 126.88,160.76 127.53,161.86 128.19,162.96 128.85,164.05 129.51,165.13 130.16,166.2 130.82,167.27 131.48,168.33 132.14,169.38 132.79,170.43 133.45,171.47 134.11,172.5 134.77,173.52 135.43,174.54 136.08,175.55 136.74,176.55 137.4,177.55 138.06,178.54 138.71,179.52 139.37,180.49 140.03,181.46 140.69,182.42 141.35,183.38 142,184.33 142.66,185.27 143.32,186.2 143.98,187.13 144.63,188.05 145.29,188.96 145.95,189.87 146.61,190.77 147.27,191.66 147.92,192.55 148.58,193.43 149.24,194.3 149.9,195.17 150.55,196.03 151.21,196.89 151.87,197.73 152.53,198.58 153.18,199.41 153.84,200.24 154.5,201.06 155.16,201.88 155.82,202.69 156.47,203.49 157.13,204.29 157.79,205.08 158.45,205.86 159.1,206.64 159.76,207.41 160.42,208.18 161.08,208.94 161.74,209.69 162.39,210.44 163.05,211.18 163.71,211.92 164.37,212.65 165.02,213.37 165.68,214.09 166.34,214.8 167,215.51 167.66,216.21 168.31,216.9 168.97,217.59 169.63,218.27 170.29,218.95 170.94,219.62 171.6,220.28 172.26,220.94 172.92,221.6 173.58,222.24 174.23,222.89 174.89,223.52 175.55,224.15 176.21,224.78 176.86,225.4 177.52,226.02 178.18,226.62 178.84,227.23 179.49,227.83 180.15,228.42 180.81,229.01 181.47,229.59 182.13,230.17 182.78,230.74 183.44,231.3 184.1,231.86 184.76,232.42 185.41,232.97 186.07,233.52 186.73,234.06 187.39,234.59 188.05,235.12 188.7,235.64 189.36,236.16 190.02,236.68 190.68,237.19 191.33,237.69 191.99,238.19 192.65,238.69 193.31,239.18 193.97,239.66 194.62,240.14 195.28,240.62 195.94,241.09 196.6,241.55 197.25,242.01 197.91,242.47 198.57,242.92 199.23,243.37 199.89,243.81 200.54,244.25 201.2,244.68 201.86,245.11 202.52,245.53 203.17,245.95 203.83,246.36 204.49,246.77 205.15,247.18 205.8,247.58 206.46,247.98 207.12,248.37 207.78,248.76 208.44,249.14 209.09,249.52 209.75,249.89 210.41,250.26 211.07,250.63 211.72,250.99 212.38,251.35 213.04,251.7 213.7,252.05 214.36,252.4 215.01,252.74 215.67,253.08 216.33,253.41 216.99,253.74 217.64,254.06 218.3,254.38 218.96,254.7 219.62,255.01 220.28,255.32 220.93,255.63 221.59,255.93 222.25,256.23 222.91,256.52 223.56,256.81 224.22,257.1 224.88,257.38 225.54,257.66 226.2,257.93 226.85,258.2 227.51,258.47 228.17,258.74 228.83,259 229.48,259.25 230.14,259.51 230.8,259.76 231.46,260 232.11,260.25 232.77,260.48 233.43,260.72 234.09,260.95 234.75,261.18 235.4,261.41 236.06,261.63 236.72,261.85 237.38,262.07 238.03,262.28 238.69,262.49 239.35,262.7 240.01,262.9 240.67,263.1 241.32,263.3 241.98,263.49 242.64,263.68 243.3,263.87 243.95,264.05 244.61,264.23 245.27,264.41 245.93,264.59 246.59,264.76 247.24,264.93 247.9,265.1 248.56,265.26 249.22,265.42 249.87,265.58 250.53,265.74 251.19,265.89 251.85,266.04 252.51,266.19 253.16,266.33 253.82,266.48 254.48,266.61 255.14,266.75 255.79,266.89 256.45,267.02 257.11,267.15 257.77,267.27 258.43,267.4 259.08,267.52 259.74,267.64 260.4,267.76 261.06,267.87 261.71,267.98 262.37,268.09 263.03,268.2 263.69,268.31 264.34,268.41 265,268.51 265.66,268.61 266.32,268.7 266.98,268.8 267.63,268.89 268.29,268.98 268.95,269.07 269.61,269.15 270.26,269.24 270.92,269.32 271.58,269.4 272.24,269.48 272.9,269.55 273.55,269.63 274.21,269.7 274.87,269.77 275.53,269.84 276.18,269.9 276.84,269.97 277.5,270.03 278.16,270.09 278.82,270.15 279.47,270.21 280.13,270.27 280.79,270.32 281.45,270.37 282.1,270.42 282.76,270.47 283.42,270.52 284.08,270.57 284.73,270.61 285.39,270.66 286.05,270.7 286.71,270.74 287.37,270.78 288.02,270.82 288.68,270.85 289.34,270.89 290,270.92 290.65,270.96 291.31,270.99 291.97,271.02 292.63,271.05 293.29,271.07 293.94,271.1 294.6,271.13 295.26,271.15 295.92,271.17 296.57,271.2 297.23,271.22 297.89,271.24 298.55,271.26 299.21,271.27 299.86,271.29 300.52,271.31 301.18,271.32 301.84,271.34 302.49,271.35 303.15,271.37 303.81,271.38 304.47,271.39 305.13,271.4 305.78,271.41 306.44,271.42 307.1,271.43 307.76,271.44 308.41,271.44 309.07,271.45 309.73,271.46 310.39,271.46 311.04,271.47 311.7,271.47 312.36,271.48 313.02,271.48 313.68,271.48 314.33,271.49 314.99,271.49 315.65,271.49 316.31,271.49 316.96,271.49 317.62,271.5 318.28,271.5 318.94,271.5 319.6,271.5 320.25,271.5 320.91,271.5 321.57,271.5 322.23,271.5 322.88,271.5 323.54,271.5 324.2,271.5"/>
<line x1="445" y1="11.9" x2="445" y2="271" stroke="#4a8fcb" stroke-width="1.8" stroke-dasharray="3.85 2.93"/>
<path fill="none" stroke="#2473c0" stroke-width="2.05" d="M421.45,10.89 L421.44,11.88 L421.42,12.86 L421.40,13.84 L421.39,14.82 L421.37,15.80 L421.36,16.79 L421.35,17.77 L421.34,18.75 L421.32,19.73 L421.31,20.71 L421.30,21.69 L421.29,22.68 L421.28,23.66 L421.27,24.64 L421.27,25.62 L421.26,26.60 L421.25,27.58 L421.24,28.57 L421.24,29.55 L421.23,30.53 L421.23,31.51 L421.23,32.49 L421.22,33.47 L421.22,34.45 L421.22,35.44 L421.22,36.42 L421.21,37.40 L421.21,38.38 L421.21,39.36 L421.21,40.34 L421.22,41.32 L421.22,42.30 L421.22,43.29 L421.22,44.27 L421.22,45.25 L421.23,46.23 L421.23,47.21 L421.24,48.19 L421.24,49.17 L421.25,50.15 L421.25,51.14 L421.26,52.12 L421.26,53.10 L421.27,54.08 L421.28,55.06 L421.29,56.04 L421.29,57.02 L421.30,58.00 L421.31,58.98 L421.32,59.96 L421.33,60.95 L421.34,61.93 L421.35,62.91 L421.36,63.89 L421.38,64.87 L421.39,65.85 L421.40,66.83 L421.41,67.81 L421.42,68.79 L421.44,69.77 L421.45,70.75 L421.47,71.74 L421.48,72.72 L421.49,73.70 L421.51,74.68 L421.52,75.66 L421.54,76.64 L421.55,77.62 L421.57,78.60 L421.59,79.58 L421.60,80.56 L421.62,81.54 L421.64,82.52 L421.65,83.51 L421.67,84.49 L421.69,85.47 L421.71,86.45 L421.72,87.43 L421.74,88.41 L421.76,89.39 L421.78,90.37 L421.80,91.35 L421.82,92.33 L421.84,93.31 L421.86,94.29 L421.88,95.27 L421.90,96.25 L421.92,97.24 L421.94,98.22 L421.96,99.20 L421.98,100.18 L422.00,101.16 L422.02,102.14 L422.04,103.12 L422.06,104.10 L422.08,105.08 L422.10,106.06 L422.12,107.04 L422.14,108.02 L422.16,109.00 L422.19,109.98 L422.21,110.96 L422.23,111.95 L422.25,112.93 L422.27,113.91 L422.29,114.89 L422.32,115.87 L422.34,116.85 L422.36,117.83 L422.38,118.81 L422.40,119.79 L422.42,120.77 L422.45,121.75 L422.47,122.73 L422.49,123.71 L422.51,124.69 L422.53,125.68 L422.56,126.66 L422.58,127.64 L422.60,128.62 L422.62,129.60 L422.64,130.58 L422.66,131.56 L422.68,132.54 L422.71,133.52 L422.73,134.50 L422.75,135.48 L422.77,136.46 L422.79,137.45 L422.81,138.43 L422.83,139.41 L422.85,140.39 L422.87,141.37 L422.89,142.35 L422.91,143.33 L422.93,144.31 L422.95,145.29 L422.97,146.27 L422.99,147.25 L423.01,148.24 L423.03,149.22 L423.05,150.20 L423.07,151.18 L423.09,152.16 L423.11,153.14 L423.13,154.12 L423.14,155.10 L423.16,156.08 L423.18,157.06 L423.20,158.05 L423.21,159.03 L423.23,160.01 L423.25,160.99 L423.26,161.97 L423.28,162.95 L423.30,163.93 L423.31,164.91 L423.33,165.90 L423.34,166.88 L423.36,167.86 L423.37,168.84 L423.39,169.82 L423.40,170.80 L423.41,171.78 L423.43,172.76 L423.44,173.75 L423.45,174.73 L423.46,175.71 L423.48,176.69 L423.49,177.67 L423.50,178.65 L423.51,179.63 L423.52,180.62 L423.53,181.60 L423.54,182.58 L423.55,183.56 L423.56,184.54 L423.56,185.52 L423.57,186.51 L423.58,187.49 L423.59,188.47 L423.59,189.45 L423.60,190.43 L423.61,191.42 L423.61,192.40 L423.62,193.38 L423.62,194.36 L423.63,195.34 L423.64,196.32 L423.65,197.31 L423.66,198.29 L423.67,199.27 L423.69,200.25 L423.70,201.23 L423.72,202.21 L423.74,203.19 L423.77,204.17 L423.80,205.16 L423.83,206.14 L423.86,207.12 L423.90,208.10 L423.94,209.08 L423.99,210.06 L424.04,211.04 L424.10,212.01 L424.16,212.99 L424.23,213.97 L424.30,214.95 L424.38,215.93 L424.47,216.91 L424.56,217.88 L424.66,218.86 L424.77,219.84 L424.88,220.81 L425.00,221.79 L425.13,222.76 L425.26,223.74 L425.41,224.71 L425.56,225.69 L425.72,226.66 L425.89,227.63 L426.07,228.61 L426.26,229.58 L426.46,230.55 L426.67,231.52 L426.89,232.49 L427.12,233.46 L427.36,234.43 L427.62,235.39 L427.90,236.35 L428.20,237.29 L428.52,238.21 L428.87,239.11 L429.26,239.99 L429.68,240.84 L430.14,241.67 L430.64,242.45 L431.18,243.20 L431.78,243.91 L432.42,244.58 L433.12,245.19 L433.88,245.75 L434.68,246.27 L435.53,246.73 L436.41,247.13 L437.32,247.49 L438.24,247.79 L439.18,248.05 L440.12,248.25 L441.09,248.41 L442.06,248.53 L443.04,248.61 L444.03,248.65 L445.02,248.66 L446.02,248.63 L447.03,248.58 L448.04,248.50 L449.05,248.40 L450.07,248.28 L451.08,248.15 L452.09,248.00 L453.10,247.84 L454.11,247.67 L455.12,247.49 L456.12,247.31 L457.11,247.13 L458.10,246.94 L459.09,246.75 L460.07,246.56 L461.05,246.37 L462.02,246.17 L462.99,245.98 L463.96,245.78 L464.92,245.57 L465.88,245.37 L466.84,245.16 L467.79,244.95 L468.74,244.74 L469.70,244.53 L470.64,244.31 L471.59,244.09 L472.54,243.88 L473.48,243.66 L474.42,243.43 L475.36,243.21 L476.30,242.99 L477.25,242.76 L478.19,242.54 L479.13,242.31 L480.07,242.08 L481.01,241.85 L481.95,241.62 L482.89,241.39 L483.83,241.16 L484.78,240.93 L485.72,240.69 L486.66,240.46 L487.60,240.22 L488.55,239.99 L489.49,239.75 L490.44,239.51 L491.38,239.28 L492.33,239.04 L493.27,238.80 L494.22,238.56 L495.16,238.32 L496.11,238.07 L497.05,237.83 L498.00,237.59 L498.95,237.35 L499.89,237.10 L500.84,236.86 L501.79,236.61 L502.74,236.37 L503.68,236.12 L504.63,235.87 L505.58,235.62 L506.53,235.38 L507.48,235.13 L508.43,234.88 L509.37,234.63 L510.32,234.38 L511.27,234.13 L512.22,233.88 L513.17,233.63 L514.12,233.38 L515.07,233.12 L516.02,232.87 L516.97,232.62 L517.92,232.36 L518.87,232.11 L519.82,231.86 L520.77,231.60 L521.72,231.35 L522.67,231.09 L523.62,230.84 L524.57,230.58 L525.52,230.33 L526.47,230.07 L527.42,229.82 L528.37,229.56 L529.33,229.30 L530.28,229.05 L531.23,228.79 L532.18,228.54 L533.13,228.28 L534.08,228.02 L535.03,227.76 L535.98,227.51 L536.93,227.25 L537.88,226.99 L538.83,226.74 L539.78,226.48 L540.73,226.22 L541.68,225.96 L542.63,225.71 L543.58,225.45 L544.53,225.19 L545.48,224.93 L546.43,224.68 L547.38,224.42 L548.33,224.16 L549.28,223.91 L550.23,223.65 L551.18,223.39 L552.13,223.14 L553.08,222.88 L554.03,222.62 L554.98,222.37 L555.93,222.11 L556.87,221.85 L557.82,221.60 L558.77,221.34 L559.72,221.08 L560.67,220.83 L561.62,220.57 L562.56,220.32 L563.51,220.06 L564.46,219.80 L565.41,219.55 L566.36,219.29 L567.30,219.04 L568.25,218.78 L569.20,218.53 L570.15,218.27 L571.09,218.01 L572.04,217.76 L572.99,217.50 L573.94,217.25 L574.88,216.99 L575.83,216.74 L576.78,216.48 L577.72,216.23 L578.67,215.97 L579.62,215.72 L580.56,215.46 L581.51,215.20 L582.46,214.95 L583.40,214.69 L584.35,214.44 L585.30,214.18 L586.24,213.93 L587.19,213.67 L588.14,213.42 L589.08,213.16 L590.03,212.91 L590.97,212.65 L591.92,212.40 L592.87,212.14 L593.81,211.88 L594.76,211.63 L595.70,211.37 L596.65,211.12 L597.60,210.86 L598.54,210.61 L599.49,210.35 L600.43,210.10 L601.38,209.84 L602.32,209.58 L603.27,209.33 L604.22,209.07 L605.16,208.82 L606.11,208.56 L607.05,208.30 L608.00,208.05 L608.94,207.79 L609.89,207.54 L610.84,207.28 L611.78,207.02 L612.73,206.77 L613.67,206.51 L614.62,206.25 L615.56,206.00 L616.51,205.74 L617.45,205.48 L618.40,205.23 L619.34,204.97 L620.29,204.71 L621.24,204.46 L622.18,204.20 L623.13,203.94 L624.07,203.69 L625.02,203.43 L625.96,203.17 L626.91,202.91 L627.85,202.66 L628.80,202.40 L629.74,202.14 L630.69,201.88 L631.64,201.62 L632.58,201.37 L633.53,201.11 L634.47,200.85 L635.42,200.59 L636.36,200.33 L637.31,200.07 L638.26,199.81 L639.20,199.55 L640.15,199.30 L641.09,199.04 L642.04,198.78 L642.98,198.52 L643.93,198.26 L644.88,198.00 L645.82,197.74 L646.77,197.48 L647.71,197.22 L648.66,196.96 L649.61,196.70 L650.55,196.43 L651.50,196.17 L652.45,195.91 L653.39,195.65 L654.34,195.39 L655.29,195.13 L656.23,194.87 L657.18,194.60 L658.13,194.34 L659.07,194.08 L660.02,193.82 L660.97,193.56 L661.91,193.29 L662.86,193.03 L663.81,192.77 L664.75,192.50 L665.70,192.24 L666.65,191.98 L667.60,191.71 L668.54,191.45 L669.49,191.18 L670.44,190.92 L671.39,190.65 L672.33,190.39 L673.28,190.12 L674.23,189.86 L675.18,189.59 L676.13,189.33 L677.07,189.06 L678.02,188.79"/>
<path fill="none" stroke="#e8383d" stroke-width="2.05" d="M422.19,10.90 L422.19,11.88 L422.18,12.86 L422.18,13.83 L422.18,14.81 L422.18,15.78 L422.18,16.76 L422.18,17.73 L422.18,18.71 L422.18,19.69 L422.18,20.66 L422.18,21.64 L422.18,22.61 L422.18,23.59 L422.18,24.56 L422.19,25.54 L422.19,26.52 L422.19,27.49 L422.20,28.47 L422.20,29.44 L422.20,30.42 L422.21,31.40 L422.21,32.37 L422.22,33.35 L422.22,34.32 L422.23,35.30 L422.24,36.28 L422.24,37.25 L422.25,38.23 L422.26,39.21 L422.27,40.18 L422.27,41.16 L422.28,42.13 L422.29,43.11 L422.30,44.09 L422.31,45.06 L422.32,46.04 L422.33,47.02 L422.34,47.99 L422.35,48.97 L422.36,49.94 L422.37,50.92 L422.38,51.90 L422.39,52.87 L422.41,53.85 L422.42,54.83 L422.43,55.80 L422.44,56.78 L422.46,57.76 L422.47,58.73 L422.48,59.71 L422.50,60.69 L422.51,61.66 L422.53,62.64 L422.54,63.61 L422.55,64.59 L422.57,65.57 L422.58,66.54 L422.60,67.52 L422.62,68.50 L422.63,69.47 L422.65,70.45 L422.66,71.43 L422.68,72.40 L422.70,73.38 L422.71,74.36 L422.73,75.33 L422.75,76.31 L422.77,77.29 L422.78,78.26 L422.80,79.24 L422.82,80.22 L422.84,81.19 L422.86,82.17 L422.88,83.14 L422.89,84.12 L422.91,85.10 L422.93,86.07 L422.95,87.05 L422.97,88.03 L422.99,89.00 L423.01,89.98 L423.03,90.96 L423.05,91.93 L423.07,92.91 L423.09,93.89 L423.11,94.86 L423.13,95.84 L423.15,96.82 L423.17,97.79 L423.19,98.77 L423.22,99.75 L423.24,100.72 L423.26,101.70 L423.28,102.68 L423.30,103.65 L423.32,104.63 L423.34,105.60 L423.37,106.58 L423.39,107.56 L423.41,108.53 L423.43,109.51 L423.45,110.49 L423.48,111.46 L423.50,112.44 L423.52,113.42 L423.54,114.39 L423.57,115.37 L423.59,116.34 L423.61,117.32 L423.63,118.30 L423.66,119.27 L423.68,120.25 L423.70,121.23 L423.72,122.20 L423.75,123.18 L423.77,124.15 L423.79,125.13 L423.82,126.11 L423.84,127.08 L423.86,128.06 L423.89,129.04 L423.91,130.01 L423.93,130.99 L423.95,131.96 L423.98,132.94 L424.00,133.92 L424.02,134.89 L424.05,135.87 L424.07,136.84 L424.09,137.82 L424.12,138.80 L424.14,139.77 L424.16,140.75 L424.19,141.72 L424.21,142.70 L424.23,143.67 L424.25,144.65 L424.28,145.63 L424.30,146.60 L424.32,147.58 L424.34,148.55 L424.37,149.53 L424.39,150.50 L424.41,151.48 L424.43,152.46 L424.46,153.43 L424.48,154.41 L424.50,155.38 L424.52,156.36 L424.55,157.33 L424.57,158.31 L424.59,159.28 L424.61,160.26 L424.63,161.23 L424.65,162.21 L424.68,163.18 L424.70,164.16 L424.72,165.14 L424.74,166.11 L424.76,167.09 L424.78,168.06 L424.80,169.04 L424.82,170.01 L424.84,170.99 L424.86,171.96 L424.88,172.94 L424.90,173.91 L424.92,174.89 L424.94,175.86 L424.96,176.83 L424.98,177.81 L425.00,178.78 L425.02,179.76 L425.04,180.73 L425.06,181.71 L425.08,182.68 L425.10,183.66 L425.11,184.63 L425.13,185.61 L425.15,186.58 L425.17,187.55 L425.19,188.53 L425.20,189.50 L425.22,190.48 L425.24,191.45 L425.26,192.43 L425.27,193.40 L425.29,194.37 L425.31,195.35 L425.33,196.32 L425.36,197.30 L425.38,198.27 L425.41,199.25 L425.44,200.22 L425.48,201.20 L425.51,202.18 L425.55,203.15 L425.60,204.13 L425.65,205.11 L425.70,206.09 L425.76,207.06 L425.83,208.04 L425.90,209.02 L425.97,210.00 L426.05,210.98 L426.14,211.97 L426.24,212.95 L426.34,213.93 L426.45,214.92 L426.57,215.90 L426.69,216.89 L426.83,217.87 L426.97,218.86 L427.12,219.85 L427.28,220.84 L427.45,221.83 L427.64,222.82 L427.85,223.80 L428.08,224.76 L428.34,225.72 L428.64,226.65 L428.99,227.56 L429.37,228.45 L429.81,229.30 L430.29,230.12 L430.81,230.91 L431.38,231.66 L431.99,232.37 L432.63,233.04 L433.32,233.66 L434.05,234.23 L434.81,234.75 L435.60,235.22 L436.44,235.63 L437.30,235.98 L438.19,236.27 L439.12,236.51 L440.06,236.69 L441.02,236.83 L442.00,236.92 L442.99,236.98 L443.98,237.01 L444.97,237.02 L445.96,237.01 L446.95,236.97 L447.93,236.92 L448.91,236.85 L449.88,236.76 L450.85,236.66 L451.82,236.54 L452.79,236.41 L453.75,236.26 L454.71,236.09 L455.67,235.91 L456.63,235.72 L457.58,235.51 L458.53,235.29 L459.48,235.06 L460.42,234.82 L461.36,234.57 L462.31,234.31 L463.25,234.03 L464.18,233.75 L465.12,233.46 L466.05,233.16 L466.98,232.85 L467.91,232.54 L468.84,232.22 L469.77,231.89 L470.70,231.56 L471.62,231.22 L472.54,230.88 L473.47,230.54 L474.39,230.19 L475.31,229.84 L476.23,229.48 L477.15,229.13 L478.07,228.77 L478.99,228.41 L479.91,228.05 L480.82,227.69 L481.74,227.34 L482.66,226.98 L483.58,226.62 L484.49,226.27 L485.41,225.91 L486.33,225.55 L487.24,225.20 L488.16,224.84 L489.07,224.49 L489.99,224.13 L490.90,223.78 L491.82,223.43 L492.73,223.07 L493.65,222.72 L494.56,222.37 L495.47,222.01 L496.39,221.66 L497.30,221.31 L498.21,220.95 L499.12,220.60 L500.04,220.25 L500.95,219.90 L501.86,219.55 L502.77,219.19 L503.68,218.84 L504.59,218.49 L505.51,218.14 L506.42,217.79 L507.33,217.44 L508.24,217.09 L509.15,216.73 L510.06,216.38 L510.97,216.03 L511.88,215.68 L512.79,215.33 L513.70,214.98 L514.60,214.63 L515.51,214.28 L516.42,213.93 L517.33,213.57 L518.24,213.22 L519.15,212.87 L520.06,212.52 L520.96,212.17 L521.87,211.81 L522.78,211.46 L523.69,211.11 L524.59,210.76 L525.50,210.41 L526.41,210.05 L527.31,209.70 L528.22,209.35 L529.13,208.99 L530.03,208.64 L530.94,208.28 L531.84,207.93 L532.75,207.58 L533.66,207.22 L534.56,206.86 L535.47,206.51 L536.37,206.15 L537.28,205.80 L538.18,205.44 L539.09,205.08 L539.99,204.73 L540.90,204.37 L541.80,204.01 L542.71,203.65 L543.61,203.29 L544.52,202.93 L545.42,202.57 L546.33,202.21 L547.23,201.85 L548.13,201.49 L549.04,201.13 L549.94,200.76 L550.85,200.40 L551.75,200.04 L552.65,199.67 L553.56,199.31 L554.46,198.95 L555.37,198.58 L556.27,198.21 L557.17,197.85 L558.08,197.48 L558.98,197.12 L559.88,196.75 L560.79,196.38 L561.69,196.01 L562.59,195.64 L563.50,195.27 L564.40,194.91 L565.30,194.54 L566.21,194.17 L567.11,193.80 L568.01,193.42 L568.91,193.05 L569.82,192.68 L570.72,192.31 L571.62,191.94 L572.52,191.57 L573.43,191.19 L574.33,190.82 L575.23,190.45 L576.13,190.07 L577.04,189.70 L577.94,189.33 L578.84,188.95 L579.74,188.58 L580.65,188.20 L581.55,187.83 L582.45,187.45 L583.35,187.08 L584.25,186.70 L585.16,186.33 L586.06,185.95 L586.96,185.57 L587.86,185.20 L588.76,184.82 L589.66,184.44 L590.57,184.06 L591.47,183.69 L592.37,183.31 L593.27,182.93 L594.17,182.55 L595.07,182.18 L595.98,181.80 L596.88,181.42 L597.78,181.04 L598.68,180.66 L599.58,180.29 L600.48,179.91 L601.38,179.53 L602.29,179.15 L603.19,178.77 L604.09,178.39 L604.99,178.01 L605.89,177.63 L606.79,177.25 L607.69,176.87 L608.59,176.49 L609.50,176.12 L610.40,175.74 L611.30,175.36 L612.20,174.98 L613.10,174.60 L614.00,174.22 L614.90,173.84 L615.80,173.46 L616.70,173.08 L617.61,172.70 L618.51,172.32 L619.41,171.94 L620.31,171.56 L621.21,171.18 L622.11,170.80 L623.01,170.43 L623.91,170.05 L624.81,169.67 L625.72,169.29 L626.62,168.91 L627.52,168.53 L628.42,168.15 L629.32,167.77 L630.22,167.40 L631.12,167.02 L632.02,166.64 L632.92,166.26 L633.83,165.88 L634.73,165.51 L635.63,165.13 L636.53,164.75 L637.43,164.37 L638.33,164.00 L639.23,163.62 L640.13,163.24 L641.04,162.87 L641.94,162.49 L642.84,162.12 L643.74,161.74 L644.64,161.36 L645.54,160.99 L646.44,160.61 L647.35,160.24 L648.25,159.87 L649.15,159.49 L650.05,159.12 L650.95,158.74 L651.85,158.37 L652.75,158.00 L653.66,157.62 L654.56,157.25 L655.46,156.88 L656.36,156.51 L657.26,156.14 L658.16,155.76 L659.07,155.39 L659.97,155.02 L660.87,154.65 L661.77,154.28 L662.67,153.91 L663.58,153.54 L664.48,153.18 L665.38,152.81 L666.28,152.44 L667.18,152.07 L668.09,151.70 L668.99,151.34 L669.89,150.97 L670.79,150.60 L671.69,150.24 L672.60,149.87 L673.50,149.51 L674.40,149.15 L675.30,148.78 L676.21,148.42 L677.11,148.06 L678.01,147.69"/>
<path fill="none" stroke="#2e7d32" stroke-width="2.05" d="M423.59,10.82 L423.61,11.83 L423.63,12.83 L423.65,13.83 L423.68,14.83 L423.70,15.84 L423.72,16.84 L423.74,17.84 L423.76,18.84 L423.78,19.84 L423.80,20.84 L423.82,21.84 L423.84,22.84 L423.85,23.84 L423.87,24.84 L423.89,25.83 L423.91,26.83 L423.92,27.83 L423.94,28.82 L423.96,29.82 L423.98,30.82 L423.99,31.81 L424.01,32.81 L424.02,33.80 L424.04,34.80 L424.06,35.79 L424.07,36.79 L424.09,37.78 L424.10,38.77 L424.12,39.77 L424.13,40.76 L424.15,41.75 L424.16,42.74 L424.18,43.74 L424.19,44.73 L424.21,45.72 L424.22,46.71 L424.23,47.70 L424.25,48.69 L424.26,49.68 L424.28,50.67 L424.29,51.66 L424.31,52.65 L424.32,53.64 L424.34,54.63 L424.35,55.62 L424.37,56.61 L424.38,57.60 L424.40,58.59 L424.41,59.57 L424.43,60.56 L424.44,61.55 L424.46,62.54 L424.48,63.53 L424.49,64.51 L424.51,65.50 L424.52,66.49 L424.54,67.47 L424.56,68.46 L424.57,69.45 L424.59,70.43 L424.61,71.42 L424.63,72.41 L424.65,73.39 L424.66,74.38 L424.68,75.37 L424.70,76.35 L424.72,77.34 L424.74,78.32 L424.76,79.31 L424.78,80.30 L424.80,81.28 L424.82,82.27 L424.84,83.25 L424.87,84.24 L424.89,85.22 L424.91,86.21 L424.94,87.19 L424.96,88.18 L424.98,89.16 L425.01,90.15 L425.03,91.13 L425.06,92.12 L425.08,93.10 L425.11,94.09 L425.14,95.08 L425.17,96.06 L425.19,97.05 L425.22,98.03 L425.25,99.02 L425.28,100.00 L425.31,100.99 L425.35,101.97 L425.38,102.96 L425.41,103.94 L425.44,104.93 L425.48,105.92 L425.51,106.90 L425.55,107.89 L425.58,108.87 L425.62,109.86 L425.66,110.85 L425.70,111.83 L425.73,112.82 L425.77,113.81 L425.81,114.79 L425.86,115.78 L425.90,116.77 L425.94,117.75 L425.98,118.74 L426.03,119.73 L426.07,120.71 L426.12,121.70 L426.17,122.69 L426.22,123.68 L426.26,124.67 L426.31,125.66 L426.36,126.64 L426.42,127.63 L426.47,128.62 L426.52,129.61 L426.58,130.60 L426.63,131.59 L426.69,132.58 L426.75,133.57 L426.80,134.56 L426.86,135.55 L426.92,136.54 L426.98,137.53 L427.05,138.52 L427.11,139.52 L427.18,140.51 L427.24,141.50 L427.31,142.49 L427.38,143.49 L427.44,144.48 L427.51,145.47 L427.59,146.47 L427.66,147.46 L427.73,148.45 L427.81,149.45 L427.88,150.44 L427.96,151.44 L428.04,152.43 L428.12,153.43 L428.20,154.43 L428.28,155.42 L428.36,156.42 L428.45,157.42 L428.53,158.41 L428.62,159.41 L428.71,160.41 L428.80,161.41 L428.89,162.41 L428.98,163.41 L429.08,164.41 L429.17,165.41 L429.27,166.41 L429.37,167.41 L429.47,168.41 L429.57,169.42 L429.67,170.42 L429.77,171.42 L429.88,172.43 L429.99,173.43 L430.09,174.43 L430.20,175.44 L430.31,176.44 L430.43,177.45 L430.54,178.46 L430.66,179.46 L430.77,180.47 L430.89,181.48 L431.02,182.48 L431.15,183.49 L431.29,184.49 L431.44,185.48 L431.60,186.47 L431.78,187.45 L431.98,188.42 L432.21,189.38 L432.45,190.33 L432.72,191.26 L433.02,192.18 L433.35,193.08 L433.71,193.97 L434.11,194.83 L434.54,195.68 L435.01,196.50 L435.53,197.30 L436.09,198.08 L436.70,198.83 L437.35,199.54 L438.05,200.20 L438.78,200.82 L439.55,201.38 L440.36,201.86 L441.21,202.28 L442.08,202.62 L442.99,202.89 L443.91,203.10 L444.86,203.23 L445.82,203.30 L446.79,203.31 L447.77,203.26 L448.76,203.15 L449.74,202.99 L450.72,202.77 L451.70,202.50 L452.66,202.19 L453.62,201.85 L454.58,201.48 L455.52,201.09 L456.44,200.69 L457.36,200.27 L458.27,199.84 L459.17,199.39 L460.06,198.93 L460.94,198.46 L461.81,197.97 L462.67,197.48 L463.53,196.97 L464.37,196.45 L465.22,195.92 L466.05,195.39 L466.88,194.84 L467.70,194.29 L468.51,193.72 L469.32,193.16 L470.13,192.58 L470.93,192.00 L471.73,191.41 L472.52,190.82 L473.31,190.22 L474.10,189.62 L474.88,189.01 L475.67,188.40 L476.45,187.79 L477.23,187.18 L478.00,186.56 L478.78,185.95 L479.56,185.33 L480.34,184.72 L481.12,184.10 L481.89,183.49 L482.67,182.87 L483.45,182.26 L484.23,181.65 L485.01,181.03 L485.79,180.42 L486.57,179.81 L487.35,179.20 L488.13,178.59 L488.91,177.98 L489.70,177.37 L490.48,176.76 L491.26,176.15 L492.04,175.54 L492.82,174.93 L493.61,174.32 L494.39,173.71 L495.17,173.10 L495.96,172.50 L496.74,171.89 L497.52,171.28 L498.31,170.67 L499.09,170.07 L499.88,169.46 L500.66,168.85 L501.44,168.25 L502.23,167.64 L503.01,167.04 L503.80,166.43 L504.58,165.83 L505.37,165.22 L506.15,164.61 L506.94,164.01 L507.72,163.40 L508.51,162.80 L509.29,162.19 L510.08,161.59 L510.86,160.99 L511.65,160.38 L512.44,159.78 L513.22,159.17 L514.01,158.57 L514.79,157.96 L515.58,157.36 L516.36,156.75 L517.15,156.15 L517.93,155.54 L518.72,154.94 L519.50,154.33 L520.29,153.73 L521.07,153.12 L521.86,152.52 L522.64,151.91 L523.43,151.31 L524.21,150.70 L525.00,150.10 L525.78,149.49 L526.56,148.88 L527.35,148.28 L528.13,147.67 L528.92,147.06 L529.70,146.46 L530.48,145.85 L531.26,145.24 L532.05,144.64 L532.83,144.03 L533.61,143.42 L534.39,142.81 L535.18,142.20 L535.96,141.59 L536.74,140.98 L537.52,140.37 L538.30,139.76 L539.08,139.15 L539.86,138.54 L540.64,137.93 L541.42,137.32 L542.20,136.71 L542.98,136.09 L543.76,135.48 L544.54,134.87 L545.31,134.25 L546.09,133.64 L546.87,133.03 L547.64,132.41 L548.42,131.79 L549.20,131.18 L549.97,130.56 L550.75,129.94 L551.52,129.33 L552.30,128.71 L553.07,128.09 L553.84,127.47 L554.62,126.85 L555.39,126.23 L556.16,125.61 L556.94,124.99 L557.71,124.37 L558.48,123.75 L559.25,123.12 L560.02,122.50 L560.79,121.88 L561.56,121.26 L562.33,120.63 L563.10,120.01 L563.87,119.38 L564.64,118.76 L565.41,118.13 L566.18,117.51 L566.95,116.88 L567.71,116.25 L568.48,115.63 L569.25,115.00 L570.02,114.37 L570.78,113.75 L571.55,113.12 L572.32,112.49 L573.08,111.86 L573.85,111.23 L574.61,110.60 L575.38,109.97 L576.14,109.34 L576.91,108.71 L577.67,108.08 L578.44,107.45 L579.20,106.82 L579.96,106.19 L580.73,105.55 L581.49,104.92 L582.25,104.29 L583.02,103.66 L583.78,103.02 L584.54,102.39 L585.31,101.76 L586.07,101.12 L586.83,100.49 L587.59,99.85 L588.35,99.22 L589.11,98.59 L589.88,97.95 L590.64,97.32 L591.40,96.68 L592.16,96.04 L592.92,95.41 L593.68,94.77 L594.44,94.14 L595.20,93.50 L595.96,92.86 L596.72,92.23 L597.48,91.59 L598.24,90.95 L599.00,90.32 L599.76,89.68 L600.52,89.04 L601.28,88.40 L602.03,87.77 L602.79,87.13 L603.55,86.49 L604.31,85.85 L605.07,85.21 L605.83,84.58 L606.59,83.94 L607.34,83.30 L608.10,82.66 L608.86,82.02 L609.62,81.38 L610.38,80.74 L611.13,80.10 L611.89,79.46 L612.65,78.83 L613.41,78.19 L614.17,77.55 L614.92,76.91 L615.68,76.27 L616.44,75.63 L617.20,74.99 L617.95,74.35 L618.71,73.71 L619.47,73.07 L620.22,72.43 L620.98,71.79 L621.74,71.15 L622.50,70.51 L623.25,69.87 L624.01,69.23 L624.77,68.59 L625.53,67.95 L626.28,67.31 L627.04,66.67 L627.80,66.03 L628.56,65.39 L629.31,64.76 L630.07,64.12 L630.83,63.48 L631.59,62.84 L632.34,62.20 L633.10,61.56 L633.86,60.92 L634.62,60.28 L635.37,59.64 L636.13,59.00 L636.89,58.36 L637.65,57.72 L638.41,57.09 L639.16,56.45 L639.92,55.81 L640.68,55.17 L641.44,54.53 L642.20,53.89 L642.96,53.26 L643.72,52.62 L644.47,51.98 L645.23,51.34 L645.99,50.71 L646.75,50.07 L647.51,49.43 L648.27,48.79 L649.03,48.16 L649.79,47.52 L650.55,46.89 L651.31,46.25 L652.07,45.61 L652.83,44.98 L653.59,44.34 L654.35,43.71 L655.11,43.07 L655.87,42.44 L656.63,41.80 L657.39,41.17 L658.15,40.53 L658.92,39.90 L659.68,39.26 L660.44,38.63 L661.20,38.00 L661.96,37.36 L662.73,36.73 L663.49,36.10 L664.25,35.47 L665.02,34.83 L665.78,34.20 L666.54,33.57 L667.31,32.94 L668.07,32.31 L668.83,31.68 L669.60,31.05 L670.36,30.42 L671.13,29.79 L671.89,29.16 L672.66,28.53 L673.42,27.90 L674.19,27.27 L674.96,26.65 L675.72,26.02 L676.49,25.39 L677.26,24.76 L678.02,24.14"/>
<path fill="none" stroke="#3f5ab8" stroke-width="1.0" d="M61.70,418.50 L62.22,419.45 L62.74,420.31 L63.26,421.16 L63.78,422.01 L64.30,422.86 L64.81,423.71 L65.33,424.55 L65.85,425.39 L66.37,426.22 L66.89,427.05 L67.41,427.88 L67.93,428.70 L68.45,429.52 L68.97,430.34 L69.49,431.15 L70.01,431.96 L70.52,432.76 L71.04,433.56 L71.56,434.35 L72.08,435.14 L72.60,435.93 L73.12,436.71 L73.64,437.49 L74.16,438.26 L74.68,439.03 L75.20,439.79 L75.72,440.55 L76.23,441.31 L76.75,442.06 L77.27,442.81 L77.79,443.55 L78.31,444.29 L78.83,445.02 L79.35,445.75 L79.87,446.47 L80.39,447.19 L80.91,447.90 L81.43,448.61 L81.94,449.31 L82.46,450.01 L82.98,450.70 L83.50,451.39 L84.02,452.07 L84.54,452.75 L85.06,453.42 L85.58,454.09 L86.10,454.75 L86.62,455.41 L87.14,456.06 L87.65,456.70 L88.17,457.34 L88.69,457.98 L89.21,458.61 L89.73,459.23 L90.25,459.85 L90.77,460.46 L91.29,461.07 L91.81,461.67 L92.33,462.26 L92.85,462.85 L93.36,463.44 L93.88,464.01 L94.40,464.59 L94.92,465.15 L95.44,465.71 L95.96,466.26 L96.48,466.80 L97.00,467.34 L97.52,467.87 L98.04,468.39 L98.56,468.91 L99.07,469.42 L99.59,469.91 L100.11,470.40 L100.63,470.89 L101.15,471.36 L101.67,471.82 L102.19,472.28 L102.71,472.73 L103.23,473.16 L103.75,473.59 L104.27,474.01 L104.78,474.41 L105.30,474.81 L105.82,475.20 L106.34,475.57 L106.86,475.94 L107.38,476.29 L107.90,476.64 L108.42,476.97 L108.94,477.29 L109.46,477.60 L109.98,477.90 L110.49,478.18 L111.01,478.46 L111.53,478.72 L112.05,478.97 L112.57,479.21 L113.09,479.44 L113.61,479.65 L114.13,479.85 L114.65,480.04 L115.17,480.22 L115.69,480.38 L116.21,480.53 L116.72,480.67 L117.24,480.80 L117.76,480.91 L118.28,481.01 L118.80,481.09 L119.32,481.16 L119.84,481.22 L120.36,481.26 L120.88,481.29 L121.40,481.31 L121.92,481.31 L122.43,481.30 L122.95,481.28 L123.47,481.24 L123.99,481.19 L124.51,481.13 L125.03,481.05 L125.55,480.97 L126.07,480.87 L126.59,480.76 L127.11,480.63 L127.63,480.50 L128.14,480.35 L128.66,480.19 L129.18,480.02 L129.70,479.83 L130.22,479.64 L130.74,479.43 L131.26,479.22 L131.78,478.99 L132.30,478.75 L132.82,478.50 L133.34,478.24 L133.85,477.97 L134.37,477.69 L134.89,477.40 L135.41,477.09 L135.93,476.78 L136.45,476.46 L136.97,476.13 L137.49,475.79 L138.01,475.44 L138.53,475.08 L139.05,474.71 L139.56,474.33 L140.08,473.95 L140.60,473.55 L141.12,473.15 L141.64,472.74 L142.16,472.32 L142.68,471.89 L143.20,471.46 L143.72,471.01 L144.24,470.56 L144.76,470.10 L145.27,469.64 L145.79,469.17 L146.31,468.69 L146.83,468.20 L147.35,467.71 L147.87,467.21 L148.39,466.70 L148.91,466.19 L149.43,465.67 L149.95,465.14 L150.47,464.61 L150.98,464.08 L151.50,463.54 L152.02,462.99 L152.54,462.44 L153.06,461.88 L153.58,461.32 L154.10,460.75 L154.62,460.18 L155.14,459.60 L155.66,459.02 L156.18,458.44 L156.69,457.85 L157.21,457.25 L157.73,456.66 L158.25,456.06 L158.77,455.45 L159.29,454.85 L159.81,454.24 L160.33,453.62 L160.85,453.01 L161.37,452.39 L161.89,451.76 L162.40,451.14 L162.92,450.51 L163.44,449.89 L163.96,449.26 L164.48,448.62 L165.00,447.90 L197.20,408.70 L197.83,408.16 L198.47,407.55 L199.10,406.94 L199.74,406.33 L200.37,405.72 L201.01,405.12 L201.64,404.52 L202.27,403.93 L202.91,403.34 L203.54,402.75 L204.18,402.16 L204.81,401.58 L205.44,401.00 L206.08,400.42 L206.71,399.85 L207.35,399.28 L207.98,398.71 L208.62,398.15 L209.25,397.58 L209.88,397.02 L210.52,396.47 L211.15,395.91 L211.79,395.36 L212.42,394.81 L213.05,394.26 L213.69,393.72 L214.32,393.18 L214.96,392.64 L215.59,392.10 L216.23,391.57 L216.86,391.03 L217.49,390.50 L218.13,389.97 L218.76,389.45 L219.40,388.92 L220.03,388.40 L220.66,387.88 L221.30,387.36 L221.93,386.85 L222.57,386.33 L223.20,385.82 L223.84,385.31 L224.47,384.80 L225.10,384.29 L225.74,383.78 L226.37,383.28 L227.01,382.78 L227.64,382.27 L228.27,381.77 L228.91,381.28 L229.54,380.78 L230.18,380.28 L230.81,379.79 L231.45,379.29 L232.08,378.80 L232.71,378.31 L233.35,377.82 L233.98,377.33 L234.62,376.84 L235.25,376.36 L235.88,375.87 L236.52,375.38 L237.15,374.90 L237.79,374.42 L238.42,373.93 L239.06,373.45 L239.69,372.97 L240.32,372.49 L240.96,372.01 L241.59,371.53 L242.23,371.05 L242.86,370.57 L243.49,370.09 L244.13,369.61 L244.76,369.14 L245.40,368.66 L246.03,368.18 L246.67,367.70 L247.30,367.23 L247.93,366.75 L248.57,366.27 L249.20,365.80 L249.84,365.32 L250.47,364.84 L251.10,364.37 L251.74,363.89 L252.37,363.41 L253.01,362.93 L253.64,362.46 L254.28,361.98 L254.91,361.50 L255.54,361.02 L256.18,360.54 L256.81,360.06 L257.45,359.58 L258.08,359.10 L258.71,358.62 L259.35,358.13 L259.98,357.65 L260.62,357.17 L261.25,356.68 L261.89,356.20 L262.52,355.71 L263.15,355.22 L263.79,354.73 L264.42,354.25 L265.06,353.76 L265.69,353.26 L266.32,352.77 L266.96,352.28 L267.59,351.78 L268.23,351.29 L268.86,350.79 L269.50,350.29 L270.13,349.79 L270.76,349.29 L271.40,348.78 L272.03,348.28 L272.67,347.77 L273.30,347.26 L273.93,346.75 L274.57,346.24 L275.20,345.73 L275.84,345.21 L276.47,344.69 L277.11,344.18 L277.74,343.65 L278.37,343.13 L279.01,342.61 L279.64,342.08 L280.28,341.55 L280.91,341.02 L281.54,340.49 L282.18,339.95 L282.81,339.41 L283.45,338.87 L284.08,338.33 L284.72,337.78 L285.35,337.24 L285.98,336.69 L286.62,336.13 L287.25,335.58 L287.89,335.02 L288.52,334.46 L289.15,333.90 L289.79,333.33 L290.42,332.76 L291.06,332.19 L291.69,331.62 L292.33,331.04 L292.96,330.46 L293.59,329.88 L294.23,329.29 L294.86,328.70 L295.50,328.11 L296.13,327.51 L296.76,326.91 L297.40,326.31 L298.03,325.70 L298.67,325.10 L299.30,324.48 L299.94,323.87 L300.57,323.25 L301.20,322.62 L301.84,322.00 L302.47,321.37 L303.11,320.73 L303.74,320.10 L304.37,319.46 L305.01,318.81 L305.64,318.16 L306.28,317.51 L306.91,316.85 L307.55,316.19 L308.18,315.53 L308.81,314.86 L309.45,314.18 L310.08,313.51 L310.72,312.83 L311.35,312.14 L311.98,311.45 L312.62,310.76 L313.25,310.06 L313.89,309.36 L314.52,308.65 L315.16,307.94 L315.79,307.22 L316.42,306.50 L317.06,305.77 L317.69,305.04 L318.33,304.31 L318.96,303.57 L319.59,302.82 L320.23,302.08 L320.86,301.32 L321.50,300.56 L322.13,299.80 L322.77,299.03 L323.40,298.60"/>
<path fill="none" stroke="#3f5ab8" stroke-width="1.0" d="M61.70,418.50 L63.02,421.13 L64.33,423.66 L65.65,426.15 L66.96,428.60 L68.28,431.02 L69.59,433.39 L70.91,435.73 L72.22,438.03 L73.54,440.29 L74.85,442.50 L76.17,444.68 L77.48,446.82 L78.80,448.91 L80.11,450.96 L81.43,452.97 L82.74,454.93 L84.06,456.86 L85.37,458.73 L86.69,460.56 L88.00,462.35 L89.32,464.09 L90.63,465.78 L91.95,467.43 L93.26,469.03 L94.58,470.58 L95.89,472.08 L97.21,473.53 L98.52,474.93 L99.84,476.29 L101.15,477.59 L102.47,478.84 L103.78,480.04 L105.10,481.19 L106.41,482.28 L107.73,483.32 L109.04,484.31 L110.36,485.23 L111.67,486.09 L112.99,486.89 L114.30,487.63 L115.62,488.29 L116.93,488.88 L118.25,489.40 L119.56,489.83 L120.88,490.19 L122.19,490.47 L123.51,490.66 L124.82,490.76 L126.14,490.77 L127.45,490.68 L128.77,490.50 L130.08,490.22 L131.40,489.84 L132.71,489.35 L134.03,488.77 L135.34,488.08 L136.66,487.33 L137.97,486.51 L139.29,485.64 L140.60,484.74 L141.92,483.82 L143.23,482.88 L144.55,481.92 L145.86,480.95 L147.18,479.96 L148.49,478.95 L149.81,477.92 L151.13,476.86 L152.44,475.79 L153.76,474.69 L155.07,473.56 L156.39,472.40 L157.70,471.23 L159.02,470.03 L160.33,468.84 L161.65,467.67 L162.96,466.52 L164.28,465.41 L165.59,464.36 L166.91,463.37 L168.22,462.44 L169.54,461.56 L170.85,460.73 L172.17,459.94 L173.48,459.18 L174.80,458.47 L176.11,457.78 L177.43,457.11 L178.74,456.47 L180.06,455.84 L181.37,455.23 L182.69,454.62 L184.00,454.01 L185.32,453.40 L186.63,452.79 L187.95,452.16 L189.26,451.51 L190.58,450.85 L191.89,450.16 L193.21,449.45 L194.52,448.72 L195.84,447.96 L197.15,447.19 L198.47,446.39 L199.78,445.56 L201.10,444.72 L202.41,443.85 L203.73,442.96 L205.04,442.05 L206.36,441.12 L207.67,440.17 L208.99,439.20 L210.30,438.20 L211.62,437.19 L212.93,436.15 L214.25,435.09 L215.56,434.01 L216.88,432.91 L218.19,431.80 L219.51,430.66 L220.82,429.50 L222.14,428.32 L223.45,427.12 L224.77,425.90 L226.08,424.66 L227.40,423.41 L228.71,422.13 L230.03,420.84 L231.34,419.52 L232.66,418.19 L233.97,416.84 L235.29,415.47 L236.61,414.08 L237.92,412.67 L239.24,411.25 L240.55,409.80 L241.87,408.34 L243.18,406.86 L244.50,405.37 L245.81,403.86 L247.13,402.32 L248.44,400.78 L249.76,399.21 L251.07,397.63 L252.39,396.03 L253.70,394.42 L255.02,392.79 L256.33,391.14 L257.65,389.47 L258.96,387.79 L260.28,386.10 L261.59,384.39 L262.91,382.66 L264.22,380.92 L265.54,379.16 L266.85,377.39 L268.17,375.61 L269.48,373.82 L270.80,372.02 L272.11,370.21 L273.43,368.38 L274.74,366.55 L276.06,364.71 L277.37,362.87 L278.69,361.01 L280.00,359.15 L281.32,357.28 L282.63,355.41 L283.95,353.54 L285.26,351.66 L286.58,349.78 L287.89,347.89 L289.21,346.01 L290.52,344.12 L291.84,342.23 L293.15,340.35 L294.47,338.46 L295.78,336.58 L297.10,334.70 L298.41,332.82 L299.73,330.95 L301.04,329.08 L302.36,327.21 L303.67,325.35 L304.99,323.50 L306.30,321.66 L307.62,319.82 L308.93,317.99 L310.25,316.17 L311.56,314.36 L312.88,312.57 L314.19,310.78 L315.51,309.00 L316.82,307.24 L318.14,305.49 L319.45,303.75 L320.77,302.03 L322.08,300.33 L323.40,298.60"/>
<path fill="none" stroke="#3f5ab8" stroke-width="1.0" d="M61.70,418.50 L63.02,422.09 L64.33,425.57 L65.65,429.00 L66.96,432.37 L68.28,435.68 L69.59,438.94 L70.91,442.14 L72.22,445.29 L73.54,448.37 L74.85,451.41 L76.17,454.38 L77.48,457.29 L78.80,460.15 L80.11,462.95 L81.43,465.69 L82.74,468.37 L84.06,470.99 L85.37,473.55 L86.69,476.05 L88.00,478.49 L89.32,480.87 L90.63,483.19 L91.95,485.45 L93.26,487.65 L94.58,489.78 L95.89,491.86 L97.21,493.87 L98.52,495.82 L99.84,497.71 L101.15,499.53 L102.47,501.29 L103.78,502.99 L105.10,504.62 L106.41,506.19 L107.73,507.70 L109.04,509.14 L110.36,510.51 L111.67,511.81 L112.99,513.05 L114.30,514.21 L115.62,515.30 L116.93,516.32 L118.25,517.26 L119.56,518.12 L120.88,518.91 L122.19,519.61 L123.51,520.24 L124.82,520.78 L126.14,521.25 L127.45,521.64 L128.77,521.97 L130.08,522.23 L131.40,522.42 L132.71,522.56 L134.03,522.65 L135.34,522.69 L136.66,522.69 L137.97,522.64 L139.29,522.56 L140.60,522.45 L141.92,522.30 L143.23,522.14 L144.55,521.95 L145.86,521.75 L147.18,521.54 L148.49,521.32 L149.81,521.10 L151.13,520.86 L152.44,520.62 L153.76,520.38 L155.07,520.12 L156.39,519.87 L157.70,519.61 L159.02,519.35 L160.33,519.09 L161.65,518.82 L162.96,518.56 L164.28,518.29 L165.59,518.03 L166.91,517.76 L168.22,517.50 L169.54,517.24 L170.85,516.99 L172.17,516.74 L173.48,516.49 L174.80,516.24 L176.11,516.00 L177.43,515.75 L178.74,515.50 L180.06,515.25 L181.37,515.00 L182.69,514.75 L184.00,514.49 L185.32,514.22 L186.63,513.95 L187.95,513.68 L189.26,513.39 L190.58,513.10 L191.89,512.80 L193.21,512.49 L194.52,512.17 L195.84,511.84 L197.15,511.51 L198.47,511.17 L199.78,510.82 L201.10,510.47 L202.41,510.11 L203.73,509.75 L205.04,509.38 L206.36,509.01 L207.67,508.64 L208.99,508.26 L210.30,507.88 L211.62,507.49 L212.93,507.11 L214.25,506.72 L215.56,506.33 L216.88,505.94 L218.19,505.55 L219.51,505.16 L220.82,504.77 L222.14,504.37 L223.45,503.98 L224.77,503.57 L226.08,503.16 L227.40,502.75 L228.71,502.32 L230.03,501.88 L231.34,501.43 L232.66,500.97 L233.97,500.49 L235.29,499.99 L236.61,499.48 L237.92,498.94 L239.24,498.39 L240.55,497.81 L241.87,497.21 L243.18,496.59 L244.50,495.94 L245.81,495.27 L247.13,494.58 L248.44,493.87 L249.76,493.14 L251.07,492.39 L252.39,491.62 L253.70,490.84 L255.02,490.04 L256.33,489.22 L257.65,488.39 L258.96,487.55 L260.28,486.70 L261.59,485.83 L262.91,484.95 L264.22,484.06 L265.54,483.16 L266.85,482.25 L268.17,481.34 L269.48,480.42 L270.80,479.49 L272.11,478.56 L273.43,477.62 L274.74,476.68 L276.06,475.74 L277.37,474.80 L278.69,473.85 L280.00,472.91 L281.32,471.96 L282.63,471.02 L283.95,470.08 L285.26,469.14 L286.58,468.21 L287.89,467.28 L289.21,466.35 L290.52,465.42 L291.84,464.50 L293.15,463.58 L294.47,462.66 L295.78,461.75 L297.10,460.83 L298.41,459.93 L299.73,459.02 L301.04,458.12 L302.36,457.23 L303.67,456.34 L304.99,455.45 L306.30,454.56 L307.62,453.68 L308.93,452.81 L310.25,451.94 L311.56,451.07 L312.88,450.21 L314.19,449.35 L315.51,448.50 L316.82,447.65 L318.14,446.81 L319.45,445.98 L320.77,445.15 L322.08,444.32 L323.40,443.50"/>
<path fill="none" stroke="#111" stroke-width="2.2" d="M61.70,418.50 L63.02,421.69 L64.33,424.89 L65.65,428.10 L66.96,431.31 L68.28,434.51 L69.59,437.71 L70.91,440.89 L72.22,444.07 L73.54,447.22 L74.85,450.35 L76.17,453.46 L77.48,456.54 L78.80,459.59 L80.11,462.60 L81.43,465.57 L82.74,468.50 L84.06,471.38 L85.37,474.21 L86.69,476.99 L88.00,479.71 L89.32,482.36 L90.63,484.96 L91.95,487.48 L93.26,489.94 L94.58,492.31 L95.89,494.61 L97.21,496.83 L98.52,498.96 L99.84,501.00 L101.15,502.94 L102.47,504.78 L103.78,506.52 L105.10,508.13 L106.41,509.62 L107.73,510.97 L109.04,512.18 L110.36,513.24 L111.67,514.15 L112.99,514.88 L114.30,515.44 L115.62,515.82 L116.93,516.01 L118.25,516.00 L119.56,515.78 L120.88,515.35 L122.19,514.70 L123.51,513.81 L124.82,512.70 L126.14,511.40 L127.45,509.97 L128.77,508.44 L130.08,506.88 L131.40,505.27 L132.71,503.60 L134.03,501.85 L135.34,499.98 L136.66,498.01 L137.97,495.95 L139.29,493.83 L140.60,491.70 L141.92,489.58 L143.23,487.50 L144.55,485.48 L145.86,483.49 L147.18,481.50 L148.49,479.45 L149.81,477.34 L151.13,475.19 L152.44,473.08 L153.76,471.04 L155.07,469.13 L156.39,467.41 L157.70,465.90 L159.02,464.60 L160.33,463.46 L161.65,462.45 L162.96,461.54 L164.28,460.69 L165.59,459.87 L166.91,459.06 L168.22,458.27 L169.54,457.48 L170.85,456.70 L172.17,455.94 L173.48,455.18 L174.80,454.44 L176.11,453.70 L177.43,452.97 L178.74,452.24 L180.06,451.52 L181.37,450.81 L182.69,450.10 L184.00,449.39 L185.32,448.69 L186.63,447.98 L187.95,447.27 L189.26,446.56 L190.58,445.85 L191.89,445.14 L193.21,444.42 L194.52,443.69 L195.84,442.96 L197.15,442.22 L198.47,441.47 L199.78,440.71 L201.10,439.94 L202.41,439.16 L203.73,438.37 L205.04,437.56 L206.36,436.74 L207.67,435.90 L208.99,435.04 L210.30,434.17 L211.62,433.27 L212.93,432.36 L214.25,431.42 L215.56,430.47 L216.88,429.49 L218.19,428.48 L219.51,427.46 L220.82,426.40 L222.14,425.33 L223.45,424.23 L224.77,423.10 L226.08,421.95 L227.40,420.78 L228.71,419.59 L230.03,418.37 L231.34,417.13 L232.66,415.87 L233.97,414.59 L235.29,413.28 L236.61,411.95 L237.92,410.61 L239.24,409.24 L240.55,407.85 L241.87,406.43 L243.18,405.00 L244.50,403.55 L245.81,402.08 L247.13,400.58 L248.44,399.07 L249.76,397.54 L251.07,395.99 L252.39,394.42 L253.70,392.83 L255.02,391.23 L256.33,389.60 L257.65,387.97 L258.96,386.31 L260.28,384.64 L261.59,382.96 L262.91,381.26 L264.22,379.55 L265.54,377.83 L266.85,376.09 L268.17,374.35 L269.48,372.59 L270.80,370.82 L272.11,369.04 L273.43,367.26 L274.74,365.46 L276.06,363.66 L277.37,361.85 L278.69,360.03 L280.00,358.21 L281.32,356.38 L282.63,354.54 L283.95,352.71 L285.26,350.86 L286.58,349.02 L287.89,347.17 L289.21,345.32 L290.52,343.47 L291.84,341.62 L293.15,339.77 L294.47,337.92 L295.78,336.07 L297.10,334.22 L298.41,332.38 L299.73,330.54 L301.04,328.70 L302.36,326.86 L303.67,325.03 L304.99,323.21 L306.30,321.39 L307.62,319.58 L308.93,317.77 L310.25,315.98 L311.56,314.19 L312.88,312.41 L314.19,310.64 L315.51,308.88 L316.82,307.13 L318.14,305.39 L319.45,303.66 L320.77,301.95 L322.08,300.25 L323.40,298.60"/>
<polyline fill="none" stroke="#2a4ea8" stroke-width="2.2" stroke-linejoin="round" points="62,803.6 85.7,778 109,716.6 133.3,626.1 156.9,577.9 180.6,563.9 203.4,560.4 227,559 250,558.7 323.1,558.5"/>
<polyline fill="none" stroke="#2a4ea8" stroke-width="2.2" stroke-dasharray="6.8 7.4" points="62,645.5 85.5,640.5 108.7,630.5 133,588 156,567 180,562 203,560.5 227,560 323.1,559.8"/>
<polyline fill="none" stroke="#2a4ea8" stroke-width="2.2" stroke-dasharray="7 2 3.2 2" points="62,659.8 85.3,632.7 108.7,630.5 133.3,620.6 156.1,621.1 180.6,613.8 205.1,612.1 240,610 280,607.3 323.1,604.6"/>
<polyline fill="none" stroke="#2a4ea8" stroke-width="2.1" stroke-dasharray="1.9 1.65" points="62,769.5 85.7,744.8 109,740.9 131.5,738.2 156,726 182.6,717.8 210,710 250,700 290,691.5 323.1,684.9"/>
<polyline fill="none" stroke="#2e7d32" stroke-width="2.1" stroke-linejoin="round" points="677.4,510.57 546.6,458.69 481.2,434.33 459.4,454.63 448.5,489.12 441.96,513.18 437.6,526.21 434.49,533.42 432.15,538.29 430.33,541.09 428.88,542.66 427.69,543.35 426.7,543.71 425.86,543.84 425.14,543.92 424.52,543.95 423.98,543.95 423.49,543.95 423.07,543.95"/>
<path d="M674.4,506.57 L682.3,510.57 L674.4,514.57 Z" fill="#2e7d32"/>
<path d="M543.6,454.69 L551.5,458.69 L543.6,462.69 Z" fill="#2e7d32"/>
<path d="M478.2,430.33 L486.1,434.33 L478.2,438.33 Z" fill="#2e7d32"/>
<path d="M456.4,450.63 L464.3,454.63 L456.4,458.63 Z" fill="#2e7d32"/>
<path d="M445.5,485.12 L453.4,489.12 L445.5,493.12 Z" fill="#2e7d32"/>
<path d="M438.96,509.18 L446.86,513.18 L438.96,517.18 Z" fill="#2e7d32"/>
<path d="M434.6,522.21 L442.5,526.21 L434.6,530.21 Z" fill="#2e7d32"/>
<path d="M431.49,529.42 L439.39,533.42 L431.49,537.42 Z" fill="#2e7d32"/>
<path d="M429.15,534.29 L437.05,538.29 L429.15,542.29 Z" fill="#2e7d32"/>
<path d="M427.33,537.09 L435.23,541.09 L427.33,545.09 Z" fill="#2e7d32"/>
<path d="M425.88,538.66 L433.78,542.66 L425.88,546.66 Z" fill="#2e7d32"/>
<path d="M424.69,539.35 L432.59,543.35 L424.69,547.35 Z" fill="#2e7d32"/>
<path d="M423.7,539.71 L431.6,543.71 L423.7,547.71 Z" fill="#2e7d32"/>
<path d="M422.86,539.84 L430.76,543.84 L422.86,547.84 Z" fill="#2e7d32"/>
<path d="M422.14,539.92 L430.04,543.92 L422.14,547.92 Z" fill="#2e7d32"/>
<path d="M421.52,539.95 L429.42,543.95 L421.52,547.95 Z" fill="#2e7d32"/>
<path d="M420.98,539.95 L428.88,543.95 L420.98,547.95 Z" fill="#2e7d32"/>
<path d="M420.49,539.95 L428.39,543.95 L420.49,547.95 Z" fill="#2e7d32"/>
<path d="M420.07,539.95 L427.97,543.95 L420.07,547.95 Z" fill="#2e7d32"/>
<polyline fill="none" stroke="#e8333a" stroke-width="2.1" stroke-linejoin="round" points="677.4,448.83 546.6,364.15 481.2,344.43 459.4,408.52 448.5,443.9 441.96,467.68 437.6,492.87 434.49,511.12 432.15,523.56 430.33,530.76 428.88,535.9 427.69,538.98 426.7,540.86 425.86,542.09 425.14,542.73 424.52,543.06 423.98,543.29 423.49,543.35 423.07,543.37"/>
<circle cx="677.4" cy="448.83" r="3.3" fill="#e8333a"/>
<circle cx="546.6" cy="364.15" r="3.3" fill="#e8333a"/>
<circle cx="481.2" cy="344.43" r="3.3" fill="#e8333a"/>
<circle cx="459.4" cy="408.52" r="3.3" fill="#e8333a"/>
<circle cx="448.5" cy="443.9" r="3.3" fill="#e8333a"/>
<circle cx="441.96" cy="467.68" r="3.3" fill="#e8333a"/>
<circle cx="437.6" cy="492.87" r="3.3" fill="#e8333a"/>
<circle cx="434.49" cy="511.12" r="3.3" fill="#e8333a"/>
<circle cx="432.15" cy="523.56" r="3.3" fill="#e8333a"/>
<circle cx="430.33" cy="530.76" r="3.3" fill="#e8333a"/>
<circle cx="428.88" cy="535.9" r="3.3" fill="#e8333a"/>
<circle cx="427.69" cy="538.98" r="3.3" fill="#e8333a"/>
<circle cx="426.7" cy="540.86" r="3.3" fill="#e8333a"/>
<circle cx="425.86" cy="542.09" r="3.3" fill="#e8333a"/>
<circle cx="425.14" cy="542.73" r="3.3" fill="#e8333a"/>
<circle cx="424.52" cy="543.06" r="3.3" fill="#e8333a"/>
<circle cx="423.98" cy="543.29" r="3.3" fill="#e8333a"/>
<circle cx="423.49" cy="543.35" r="3.3" fill="#e8333a"/>
<circle cx="423.07" cy="543.37" r="3.3" fill="#e8333a"/>
<polyline fill="none" stroke="#2a4ea8" stroke-width="2.1" stroke-linejoin="round" points="677.4,391.7 546.6,304.7 481.2,311.95 459.4,373.14 448.5,426.79 441.96,454.92 437.6,473.19 434.49,493.08 432.15,509.27 430.33,520.05 428.88,527.66 427.69,532.73 426.7,536.03 425.86,538.39 425.14,540.05 424.52,541.05 423.98,541.63 423.49,541.81 423.07,541.87"/>
<path d="M677.4,387.3 L680.7,391.7 L677.4,396.1 L674.1,391.7 Z" fill="#2a4ea8"/>
<path d="M546.6,300.3 L549.9,304.7 L546.6,309.1 L543.3,304.7 Z" fill="#2a4ea8"/>
<path d="M481.2,307.55 L484.5,311.95 L481.2,316.35 L477.9,311.95 Z" fill="#2a4ea8"/>
<path d="M459.4,368.74 L462.7,373.14 L459.4,377.54 L456.1,373.14 Z" fill="#2a4ea8"/>
<path d="M448.5,422.39 L451.8,426.79 L448.5,431.19 L445.2,426.79 Z" fill="#2a4ea8"/>
<path d="M441.96,450.52 L445.26,454.92 L441.96,459.32 L438.66,454.92 Z" fill="#2a4ea8"/>
<path d="M437.6,468.79 L440.9,473.19 L437.6,477.59 L434.3,473.19 Z" fill="#2a4ea8"/>
<path d="M434.49,488.68 L437.79,493.08 L434.49,497.48 L431.19,493.08 Z" fill="#2a4ea8"/>
<path d="M432.15,504.87 L435.45,509.27 L432.15,513.67 L428.85,509.27 Z" fill="#2a4ea8"/>
<path d="M430.33,515.65 L433.63,520.05 L430.33,524.45 L427.03,520.05 Z" fill="#2a4ea8"/>
<path d="M428.88,523.26 L432.18,527.66 L428.88,532.06 L425.58,527.66 Z" fill="#2a4ea8"/>
<path d="M427.69,528.33 L430.99,532.73 L427.69,537.13 L424.39,532.73 Z" fill="#2a4ea8"/>
<path d="M426.7,531.63 L430,536.03 L426.7,540.43 L423.4,536.03 Z" fill="#2a4ea8"/>
<path d="M425.86,533.99 L429.16,538.39 L425.86,542.79 L422.56,538.39 Z" fill="#2a4ea8"/>
<path d="M425.14,535.65 L428.44,540.05 L425.14,544.45 L421.84,540.05 Z" fill="#2a4ea8"/>
<path d="M424.52,536.65 L427.82,541.05 L424.52,545.45 L421.22,541.05 Z" fill="#2a4ea8"/>
<path d="M423.98,537.23 L427.28,541.63 L423.98,546.03 L420.68,541.63 Z" fill="#2a4ea8"/>
<path d="M423.49,537.41 L426.79,541.81 L423.49,546.21 L420.19,541.81 Z" fill="#2a4ea8"/>
<path d="M423.07,537.47 L426.37,541.87 L423.07,546.27 L419.77,541.87 Z" fill="#2a4ea8"/>
<polyline fill="none" stroke="#e8333a" stroke-width="2.1" stroke-linejoin="round" points="678.8,616.96 547,598.88 481.1,692.47 459.13,725.71 448.15,759.53 441.56,767.05 437.17,776.65 434.03,787.99 431.68,797.57 429.84,804.49 428.38,809.33 427.18,812.37 426.18,814.45 425.34,815.59 424.61,816.3 423.99,816.53 423.44,816.61 422.95,816.66 422.52,816.68"/>
<rect x="676.1" y="614.26" width="5.4" height="5.4" fill="#e8333a"/>
<rect x="544.3" y="596.18" width="5.4" height="5.4" fill="#e8333a"/>
<rect x="478.4" y="689.77" width="5.4" height="5.4" fill="#e8333a"/>
<rect x="456.43" y="723.01" width="5.4" height="5.4" fill="#e8333a"/>
<rect x="445.45" y="756.83" width="5.4" height="5.4" fill="#e8333a"/>
<rect x="438.86" y="764.35" width="5.4" height="5.4" fill="#e8333a"/>
<rect x="434.47" y="773.95" width="5.4" height="5.4" fill="#e8333a"/>
<rect x="431.33" y="785.29" width="5.4" height="5.4" fill="#e8333a"/>
<rect x="428.98" y="794.87" width="5.4" height="5.4" fill="#e8333a"/>
<rect x="427.14" y="801.79" width="5.4" height="5.4" fill="#e8333a"/>
<rect x="425.68" y="806.63" width="5.4" height="5.4" fill="#e8333a"/>
<rect x="424.48" y="809.67" width="5.4" height="5.4" fill="#e8333a"/>
<rect x="423.48" y="811.75" width="5.4" height="5.4" fill="#e8333a"/>
<rect x="422.64" y="812.89" width="5.4" height="5.4" fill="#e8333a"/>
<rect x="421.91" y="813.6" width="5.4" height="5.4" fill="#e8333a"/>
<rect x="421.29" y="813.83" width="5.4" height="5.4" fill="#e8333a"/>
<rect x="420.74" y="813.91" width="5.4" height="5.4" fill="#e8333a"/>
<rect x="420.25" y="813.96" width="5.4" height="5.4" fill="#e8333a"/>
<rect x="419.82" y="813.98" width="5.4" height="5.4" fill="#e8333a"/>
<polyline fill="none" stroke="#d8862f" stroke-width="2.1" stroke-linejoin="round" points="678.8,623.08 547,577.89 481.1,662.15 459.13,702.68 448.15,746.41 441.56,757.49 437.17,769.37 434.03,782.47 431.68,792.93 429.84,801.03 428.38,806.78 427.18,810.73 426.18,813.43 425.34,815.16 424.61,815.98 423.99,816.43 423.44,816.61 422.95,816.66 422.52,816.68"/>
<circle cx="678.8" cy="623.08" r="3.3" fill="#d8862f"/>
<circle cx="547" cy="577.89" r="3.3" fill="#d8862f"/>
<circle cx="481.1" cy="662.15" r="3.3" fill="#d8862f"/>
<circle cx="459.13" cy="702.68" r="3.3" fill="#d8862f"/>
<circle cx="448.15" cy="746.41" r="3.3" fill="#d8862f"/>
<circle cx="441.56" cy="757.49" r="3.3" fill="#d8862f"/>
<circle cx="437.17" cy="769.37" r="3.3" fill="#d8862f"/>
<circle cx="434.03" cy="782.47" r="3.3" fill="#d8862f"/>
<circle cx="431.68" cy="792.93" r="3.3" fill="#d8862f"/>
<circle cx="429.84" cy="801.03" r="3.3" fill="#d8862f"/>
<circle cx="428.38" cy="806.78" r="3.3" fill="#d8862f"/>
<circle cx="427.18" cy="810.73" r="3.3" fill="#d8862f"/>
<circle cx="426.18" cy="813.43" r="3.3" fill="#d8862f"/>
<circle cx="425.34" cy="815.16" r="3.3" fill="#d8862f"/>
<circle cx="424.61" cy="815.98" r="3.3" fill="#d8862f"/>
<circle cx="423.99" cy="816.43" r="3.3" fill="#d8862f"/>
<circle cx="423.44" cy="816.61" r="3.3" fill="#d8862f"/>
<circle cx="422.95" cy="816.66" r="3.3" fill="#d8862f"/>
<circle cx="422.52" cy="816.68" r="3.3" fill="#d8862f"/>
<polyline fill="none" stroke="#2a4ea8" stroke-width="2.1" stroke-linejoin="round" points="678.8,664.48 547,576.43 481.1,584.01 459.13,645.82 448.15,700.05 441.56,728.33 437.17,746.99 434.03,766.75 431.68,783.05 429.84,794.67 428.38,802.19 427.18,807.35 426.18,811 425.34,813.43 424.61,815.16 423.99,815.98 423.44,816.43 422.95,816.61 422.52,816.66"/>
<path d="M678.8,660.08 L682.1,664.48 L678.8,668.88 L675.5,664.48 Z" fill="#2a4ea8"/>
<path d="M547,572.03 L550.3,576.43 L547,580.83 L543.7,576.43 Z" fill="#2a4ea8"/>
<path d="M481.1,579.61 L484.4,584.01 L481.1,588.41 L477.8,584.01 Z" fill="#2a4ea8"/>
<path d="M459.13,641.42 L462.43,645.82 L459.13,650.22 L455.83,645.82 Z" fill="#2a4ea8"/>
<path d="M448.15,695.65 L451.45,700.05 L448.15,704.45 L444.85,700.05 Z" fill="#2a4ea8"/>
<path d="M441.56,723.93 L444.86,728.33 L441.56,732.73 L438.26,728.33 Z" fill="#2a4ea8"/>
<path d="M437.17,742.59 L440.47,746.99 L437.17,751.39 L433.87,746.99 Z" fill="#2a4ea8"/>
<path d="M434.03,762.35 L437.33,766.75 L434.03,771.15 L430.73,766.75 Z" fill="#2a4ea8"/>
<path d="M431.68,778.65 L434.98,783.05 L431.68,787.45 L428.38,783.05 Z" fill="#2a4ea8"/>
<path d="M429.84,790.27 L433.14,794.67 L429.84,799.07 L426.54,794.67 Z" fill="#2a4ea8"/>
<path d="M428.38,797.79 L431.68,802.19 L428.38,806.59 L425.08,802.19 Z" fill="#2a4ea8"/>
<path d="M427.18,802.95 L430.48,807.35 L427.18,811.75 L423.88,807.35 Z" fill="#2a4ea8"/>
<path d="M426.18,806.6 L429.48,811 L426.18,815.4 L422.88,811 Z" fill="#2a4ea8"/>
<path d="M425.34,809.03 L428.64,813.43 L425.34,817.83 L422.04,813.43 Z" fill="#2a4ea8"/>
<path d="M424.61,810.76 L427.91,815.16 L424.61,819.56 L421.31,815.16 Z" fill="#2a4ea8"/>
<path d="M423.99,811.58 L427.29,815.98 L423.99,820.38 L420.69,815.98 Z" fill="#2a4ea8"/>
<path d="M423.44,812.03 L426.74,816.43 L423.44,820.83 L420.14,816.43 Z" fill="#2a4ea8"/>
<path d="M422.95,812.21 L426.25,816.61 L422.95,821.01 L419.65,816.61 Z" fill="#2a4ea8"/>
<path d="M422.52,812.26 L425.82,816.66 L422.52,821.06 L419.22,816.66 Z" fill="#2a4ea8"/>
<polyline fill="none" stroke="#6cc36c" stroke-width="2.1" stroke-linejoin="round" points="678.8,726.29 547,625.71 481.1,572.94 459.13,587.51 448.15,627.46 441.56,674.98 437.17,706.18 434.03,734.17 431.68,760.41 429.84,778.33 428.38,791.38 427.18,800.32 426.18,806.56 425.34,810.69 424.61,813.23 423.99,814.75 423.44,815.39 422.95,815.69 422.52,815.75"/>
<path d="M675.2,728.89 L682.4,728.89 L678.8,722.89 Z" fill="#6cc36c"/>
<path d="M543.4,628.31 L550.6,628.31 L547,622.31 Z" fill="#6cc36c"/>
<path d="M477.5,575.54 L484.7,575.54 L481.1,569.54 Z" fill="#6cc36c"/>
<path d="M455.53,590.11 L462.73,590.11 L459.13,584.11 Z" fill="#6cc36c"/>
<path d="M444.55,630.06 L451.75,630.06 L448.15,624.06 Z" fill="#6cc36c"/>
<path d="M437.96,677.58 L445.16,677.58 L441.56,671.58 Z" fill="#6cc36c"/>
<path d="M433.57,708.78 L440.77,708.78 L437.17,702.78 Z" fill="#6cc36c"/>
<path d="M430.43,736.77 L437.63,736.77 L434.03,730.77 Z" fill="#6cc36c"/>
<path d="M428.07,763.01 L435.28,763.01 L431.68,757.01 Z" fill="#6cc36c"/>
<path d="M426.24,780.93 L433.44,780.93 L429.84,774.93 Z" fill="#6cc36c"/>
<path d="M424.78,793.98 L431.98,793.98 L428.38,787.98 Z" fill="#6cc36c"/>
<path d="M423.58,802.92 L430.78,802.92 L427.18,796.92 Z" fill="#6cc36c"/>
<path d="M422.58,809.16 L429.78,809.16 L426.18,803.16 Z" fill="#6cc36c"/>
<path d="M421.74,813.29 L428.94,813.29 L425.34,807.29 Z" fill="#6cc36c"/>
<path d="M421.01,815.83 L428.21,815.83 L424.61,809.83 Z" fill="#6cc36c"/>
<path d="M420.39,817.35 L427.59,817.35 L423.99,811.35 Z" fill="#6cc36c"/>
<path d="M419.84,817.99 L427.04,817.99 L423.44,811.99 Z" fill="#6cc36c"/>
<path d="M419.35,818.29 L426.55,818.29 L422.95,812.29 Z" fill="#6cc36c"/>
<path d="M418.92,818.35 L426.12,818.35 L422.52,812.35 Z" fill="#6cc36c"/>
<polyline fill="none" stroke="#000" stroke-width="2.1" stroke-linejoin="round" points="678.8,765.45 547,679.64 481.1,598.59 459.13,582.27 448.15,590.43 441.56,634.75 437.17,673.81 434.03,705.3 431.68,735.62 429.84,760.41 428.38,777.64 427.18,789.77 426.18,798.08 425.34,803.16 424.61,807.28 423.99,809.9 423.44,811.83 422.95,813.1 422.52,813.8"/>
<path d="M675.2,762.85 L682.4,762.85 L678.8,768.85 Z" fill="#000"/>
<path d="M543.4,677.04 L550.6,677.04 L547,683.04 Z" fill="#000"/>
<path d="M477.5,595.99 L484.7,595.99 L481.1,601.99 Z" fill="#000"/>
<path d="M455.53,579.67 L462.73,579.67 L459.13,585.67 Z" fill="#000"/>
<path d="M444.55,587.83 L451.75,587.83 L448.15,593.83 Z" fill="#000"/>
<path d="M437.96,632.15 L445.16,632.15 L441.56,638.15 Z" fill="#000"/>
<path d="M433.57,671.21 L440.77,671.21 L437.17,677.21 Z" fill="#000"/>
<path d="M430.43,702.7 L437.63,702.7 L434.03,708.7 Z" fill="#000"/>
<path d="M428.07,733.02 L435.28,733.02 L431.68,739.02 Z" fill="#000"/>
<path d="M426.24,757.81 L433.44,757.81 L429.84,763.81 Z" fill="#000"/>
<path d="M424.78,775.04 L431.98,775.04 L428.38,781.04 Z" fill="#000"/>
<path d="M423.58,787.17 L430.78,787.17 L427.18,793.17 Z" fill="#000"/>
<path d="M422.58,795.48 L429.78,795.48 L426.18,801.48 Z" fill="#000"/>
<path d="M421.74,800.56 L428.94,800.56 L425.34,806.56 Z" fill="#000"/>
<path d="M421.01,804.68 L428.21,804.68 L424.61,810.68 Z" fill="#000"/>
<path d="M420.39,807.3 L427.59,807.3 L423.99,813.3 Z" fill="#000"/>
<path d="M419.84,809.23 L427.04,809.23 L423.44,815.23 Z" fill="#000"/>
<path d="M419.35,810.5 L426.55,810.5 L422.95,816.5 Z" fill="#000"/>
<path d="M418.92,811.2 L426.12,811.2 L422.52,817.2 Z" fill="#000"/>
<text x="48.75" y="15.35" font-size="23">1</text>
<text x="28.15" y="66.5" font-size="23">0.8</text>
<text x="30.95" y="120.5" font-size="23">0.6</text>
<text x="30.45" y="170.95" font-size="23">0.4</text>
<text x="30.95" y="222.1" font-size="23">0.2</text>
<text x="48.35" y="271.25" font-size="23">0</text>
<text x="372.5" y="19.2" font-size="23">0.06</text>
<text x="372.55" y="105.9" font-size="23">0.04</text>
<text x="372.85" y="193.15" font-size="23">0.02</text>
<text x="401.75" y="274.8" font-size="23">0</text>
<text x="48.35" y="305.85" font-size="23">1</text>
<text x="30.95" y="364.45" font-size="23">0.8</text>
<text x="31.35" y="424.6" font-size="23">0.6</text>
<text x="30.45" y="481.2" font-size="23">0.4</text>
<text x="30.95" y="537.15" font-size="23">0.2</text>
<text x="384.4" y="321.85" font-size="23">0.8</text>
<text x="384.4" y="380.05" font-size="23">0.6</text>
<text x="383.9" y="438.75" font-size="23">0.4</text>
<text x="384.4" y="494.7" font-size="23">0.2</text>
<text x="401.55" y="549.7" font-size="23">0</text>
<text x="48.5" y="566.8" font-size="23">1</text>
<text x="30.95" y="663.8" font-size="23">0.8</text>
<text x="31.1" y="774.7" font-size="23">0.6</text>
<text x="55.85" y="840.3" font-size="23">0</text>
<text x="100.3" y="840.3" font-size="23">0.1</text>
<text x="150.8" y="840.3" font-size="23">0.2</text>
<text x="202.3" y="840.3" font-size="23">0.3</text>
<text x="255.05" y="840.3" font-size="23">0.4</text>
<text x="307.95" y="840.3" font-size="23">0.5</text>
<text x="384.4" y="595.8" font-size="23">0.8</text>
<text x="384.4" y="654" font-size="23">0.6</text>
<text x="383.9" y="712.45" font-size="23">0.4</text>
<text x="384.4" y="769.05" font-size="23">0.2</text>
<text x="401.55" y="824.15" font-size="23">0</text>
<text x="411.3" y="841.3" font-size="23">0</text>
<text x="468.2" y="841.3" font-size="23">0.5</text>
<text x="541.25" y="841.3" font-size="23">1</text>
<text x="597.8" y="841.3" font-size="23">1.5</text>
<text x="674.25" y="841.3" font-size="23">2</text>
<text x="282.7" y="34.2" font-size="26.5">(a)</text>
<text x="634.5" y="33.65" font-size="26.5">(b)</text>
<text x="282.7" y="311.2" font-size="26.5">(c)</text>
<text x="634.5" y="311.2" font-size="26.5">(d)</text>
<text x="282.7" y="587.85" font-size="26.5">(e)</text>
<text x="636.4" y="587.9" font-size="26.5">(f)</text>
<text transform="translate(17.35,148.75) rotate(-90)" font-size="30"><tspan font-style="italic">g</tspan></text>
<text transform="translate(371.75,161.15) rotate(-90)" font-size="30"><tspan font-style="italic">J</tspan></text>
<text transform="translate(368.95,143.5) rotate(-90)" font-size="30">′</text>
<text transform="translate(379.75,145.45) rotate(-90)" font-size="22">gp</text>
<text transform="translate(19,431.3) rotate(-90)" font-size="31"><tspan font-style="italic">E</tspan></text>
<text transform="translate(22.65,412.6) rotate(-90)" font-size="22">gp</text>
<text transform="translate(375.55,414.25) rotate(-90)" font-size="30"><tspan font-style="italic">F</tspan></text>
<text transform="translate(22.65,690.15) rotate(-90)" font-size="30"><tspan font-style="italic">F</tspan></text>
<text transform="translate(375.55,690.15) rotate(-90)" font-size="30"><tspan font-style="italic">F</tspan></text>
<text x="184.85" y="865.35" font-size="30"><tspan font-style="italic">J</tspan></text>
<text x="533.75" y="859.4" font-size="30"><tspan font-style="italic">r</tspan></text>
<text x="550.4" y="863.7" font-size="22"><tspan font-style="italic">J</tspan></text>
</svg></body></html>
